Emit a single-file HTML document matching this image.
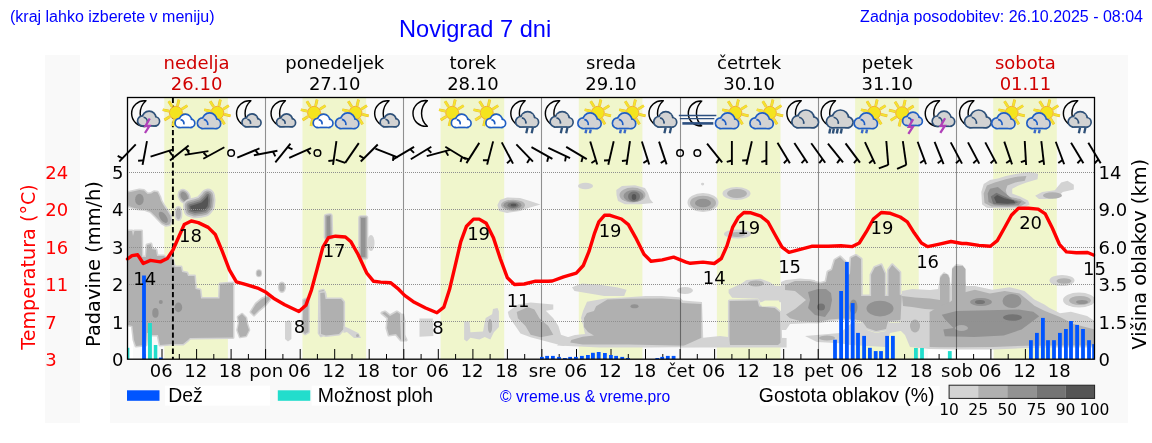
<!DOCTYPE html>
<html><head><meta charset="utf-8"><title>Novigrad 7 dni</title>
<style>
html,body{margin:0;padding:0;background:#fff;width:1152px;height:443px;overflow:hidden}
body{position:relative}
.t{position:absolute;font-family:"Liberation Sans",Arial,sans-serif;color:#0000ff;white-space:nowrap;line-height:1}
</style></head><body>
<svg width="1152" height="443" viewBox="0 0 1152 443" style="position:absolute;left:0;top:0"><defs><clipPath id="pc"><rect x="128" y="98" width="966" height="261"/></clipPath></defs><rect x="45" y="55" width="35" height="368" fill="#f9f9f9"/><rect x="110" y="55" width="1018" height="368" fill="#f9f9f9"/><rect x="164.3" y="97.5" width="63.6" height="261.7" fill="#f0f6cc"/><rect x="302.5" y="97.5" width="63.6" height="261.7" fill="#f0f6cc"/><rect x="440.6" y="97.5" width="63.6" height="261.7" fill="#f0f6cc"/><rect x="578.8" y="97.5" width="63.6" height="261.7" fill="#f0f6cc"/><rect x="716.9" y="97.5" width="63.6" height="261.7" fill="#f0f6cc"/><rect x="855.1" y="97.5" width="63.6" height="261.7" fill="#f0f6cc"/><rect x="993.2" y="97.5" width="63.6" height="261.7" fill="#f0f6cc"/><g clip-path="url(#pc)"><polygon points="128.0,326.0 133.0,326.0 133.0,359.0 128.0,359.0" fill="#ffffff"/><polygon points="928.0,349.5 993.5,349.5 993.5,359.0 928.0,359.0" fill="#ffffff"/><polygon points="1055.0,347.0 1094.0,347.0 1094.0,359.0 1055.0,359.0" fill="#ffffff"/><polygon points="128.1,192.4 133.8,191.2 139.4,190.0 143.9,190.6 147.5,194.0 151.3,193.4 154.1,191.7 157.5,192.3 159.7,196.8 160.9,200.8 163.1,204.7 167.1,210.4 170.5,216.0 171.2,220.5 169.5,224.6 166.1,225.3 162.1,223.2 158.7,219.8 155.4,216.3 150.8,211.7 145.2,209.5 139.6,208.9 136.2,208.4 131.6,207.2 128.3,205.5" fill="#d3d3d3" stroke="#d3d3d3" stroke-width="3.00" stroke-linejoin="round"/><polygon points="128.1,192.4 133.8,191.2 139.4,190.0 143.9,190.6 147.5,194.0 151.3,193.4 154.1,191.7 157.5,192.3 159.7,196.8 160.9,200.8 163.1,204.7 167.1,210.4 170.5,216.0 171.2,220.5 169.5,224.6 166.1,225.3 162.1,223.2 158.7,219.8 155.4,216.3 150.8,211.7 145.2,209.5 139.6,208.9 136.2,208.4 131.6,207.2 128.3,205.5" fill="#b0b0b0"/><ellipse cx="139.4" cy="199.5" rx="4.3" ry="5.8" fill="#929292"/><ellipse cx="163.3" cy="217.3" rx="3.2" ry="6.5" fill="#929292" transform="rotate(-35 163.3 217.3)"/><ellipse cx="184.2" cy="196.5" rx="3.2" ry="5" fill="#d3d3d3" stroke="#d3d3d3" stroke-width="6.00" stroke-linejoin="round" transform="rotate(-30 184.2 196.5)"/><ellipse cx="184.2" cy="196.5" rx="3.2" ry="5" fill="#b0b0b0" stroke="#b0b0b0" stroke-width="3.00" stroke-linejoin="round" transform="rotate(-30 184.2 196.5)"/><ellipse cx="184.2" cy="196.5" rx="3.2" ry="5" fill="#929292" transform="rotate(-30 184.2 196.5)"/><polygon points="190.2,206.0 194.7,204.8 201.5,202.6 206.0,198.1 207.7,195.8 208.3,200.3 207.7,206.0 204.9,209.4 200.4,210.5 194.7,211.1 190.8,209.9" fill="#d3d3d3" stroke="#d3d3d3" stroke-width="14.40" stroke-linejoin="round"/><polygon points="190.2,206.0 194.7,204.8 201.5,202.6 206.0,198.1 207.7,195.8 208.3,200.3 207.7,206.0 204.9,209.4 200.4,210.5 194.7,211.1 190.8,209.9" fill="#b0b0b0" stroke="#b0b0b0" stroke-width="10.80" stroke-linejoin="round"/><polygon points="190.2,206.0 194.7,204.8 201.5,202.6 206.0,198.1 207.7,195.8 208.3,200.3 207.7,206.0 204.9,209.4 200.4,210.5 194.7,211.1 190.8,209.9" fill="#929292" stroke="#929292" stroke-width="7.20" stroke-linejoin="round"/><polygon points="190.2,206.0 194.7,204.8 201.5,202.6 206.0,198.1 207.7,195.8 208.3,200.3 207.7,206.0 204.9,209.4 200.4,210.5 194.7,211.1 190.8,209.9" fill="#747474" stroke="#747474" stroke-width="3.60" stroke-linejoin="round"/><polygon points="190.2,206.0 194.7,204.8 201.5,202.6 206.0,198.1 207.7,195.8 208.3,200.3 207.7,206.0 204.9,209.4 200.4,210.5 194.7,211.1 190.8,209.9" fill="#555555"/><ellipse cx="178.4" cy="213.5" rx="2.5" ry="6" fill="#d3d3d3" stroke="#d3d3d3" stroke-width="3.00" stroke-linejoin="round"/><ellipse cx="178.4" cy="213.5" rx="2.5" ry="6" fill="#b0b0b0"/><polygon points="128.0,231.0 132.0,231.0 133.0,236.0 134.5,231.0 141.5,231.0 142.0,257.0 146.0,257.0 147.0,245.0 151.0,244.0 152.0,249.0 156.0,250.0 157.0,256.0 164.0,256.0 166.0,258.0 172.0,257.0 173.0,262.0 174.5,267.0 181.0,267.0 182.0,272.0 187.0,273.0 188.0,276.0 194.5,276.0 195.5,289.0 200.0,290.0 201.0,298.5 219.5,298.5 220.0,284.0 233.0,283.0 233.0,337.5 190.0,338.0 188.0,340.0 183.0,344.0 172.0,344.0 160.0,345.0 158.0,335.0 152.0,335.0 150.0,333.0 147.0,333.0 146.0,345.0 136.0,346.0 134.0,340.0 132.4,326.0 128.0,325.0" fill="#d3d3d3" stroke="#d3d3d3" stroke-width="3.00" stroke-linejoin="round"/><polygon points="128.0,231.0 132.0,231.0 133.0,236.0 134.5,231.0 141.5,231.0 142.0,257.0 146.0,257.0 147.0,245.0 151.0,244.0 152.0,249.0 156.0,250.0 157.0,256.0 164.0,256.0 166.0,258.0 172.0,257.0 173.0,262.0 174.5,267.0 181.0,267.0 182.0,272.0 187.0,273.0 188.0,276.0 194.5,276.0 195.5,289.0 200.0,290.0 201.0,298.5 219.5,298.5 220.0,284.0 233.0,283.0 233.0,337.5 190.0,338.0 188.0,340.0 183.0,344.0 172.0,344.0 160.0,345.0 158.0,335.0 152.0,335.0 150.0,333.0 147.0,333.0 146.0,345.0 136.0,346.0 134.0,340.0 132.4,326.0 128.0,325.0" fill="#b0b0b0"/><ellipse cx="155.4" cy="312.9" rx="3.2" ry="4.8" fill="#929292"/><ellipse cx="178.4" cy="307.4" rx="3.8" ry="4.8" fill="#929292"/><ellipse cx="160.8" cy="302" rx="2" ry="2" fill="#929292"/><ellipse cx="258.9" cy="273.2" rx="2.2" ry="3" fill="#d3d3d3" stroke="#d3d3d3" stroke-width="2.00" stroke-linejoin="round"/><ellipse cx="258.9" cy="273.2" rx="2.2" ry="3" fill="#b0b0b0"/><ellipse cx="281.9" cy="287.3" rx="2.6" ry="4.2" fill="#d3d3d3" stroke="#d3d3d3" stroke-width="3.00" stroke-linejoin="round"/><ellipse cx="281.9" cy="287.3" rx="2.6" ry="4.2" fill="#b0b0b0"/><polygon points="251.0,312.0 256.0,304.0 262.0,299.0 268.0,296.5 270.0,299.0 265.0,305.0 259.0,310.0 254.0,315.0" fill="#d3d3d3" stroke="#d3d3d3" stroke-width="3.00" stroke-linejoin="round"/><polygon points="251.0,312.0 256.0,304.0 262.0,299.0 268.0,296.5 270.0,299.0 265.0,305.0 259.0,310.0 254.0,315.0" fill="#b0b0b0"/><polygon points="238.0,317.0 242.0,314.0 246.0,318.0 247.0,324.0 249.0,330.0 246.0,336.0 240.0,337.0 237.5,330.0 239.0,323.0" fill="#d3d3d3" stroke="#d3d3d3" stroke-width="2.60" stroke-linejoin="round"/><polygon points="238.0,317.0 242.0,314.0 246.0,318.0 247.0,324.0 249.0,330.0 246.0,336.0 240.0,337.0 237.5,330.0 239.0,323.0" fill="#b0b0b0"/><polygon points="285.0,322.0 289.0,320.0 291.4,323.0 291.4,339.0 288.0,341.5 285.0,339.0" fill="#d3d3d3"/><polygon points="303.5,300.0 307.0,298.5 308.5,302.0 308.5,332.0 305.0,334.0 302.5,331.0" fill="#d3d3d3" stroke="#d3d3d3" stroke-width="2.60" stroke-linejoin="round"/><polygon points="303.5,300.0 307.0,298.5 308.5,302.0 308.5,332.0 305.0,334.0 302.5,331.0" fill="#b0b0b0"/><polygon points="319.5,291.0 323.5,290.0 325.0,294.0 325.0,334.0 321.0,336.0 319.0,333.0" fill="#d3d3d3" stroke="#d3d3d3" stroke-width="2.60" stroke-linejoin="round"/><polygon points="319.5,291.0 323.5,290.0 325.0,294.0 325.0,334.0 321.0,336.0 319.0,333.0" fill="#b0b0b0"/><polygon points="326.5,216.5 330.0,216.0 330.5,237.0 326.5,237.5" fill="#d3d3d3" stroke="#d3d3d3" stroke-width="5.60" stroke-linejoin="round"/><polygon points="326.5,216.5 330.0,216.0 330.5,237.0 326.5,237.5" fill="#b0b0b0" stroke="#b0b0b0" stroke-width="2.80" stroke-linejoin="round"/><polygon points="326.5,216.5 330.0,216.0 330.5,237.0 326.5,237.5" fill="#929292"/><ellipse cx="371" cy="243" rx="3.5" ry="8" fill="#d3d3d3"/><polygon points="361.0,218.0 365.5,218.0 365.5,257.0 361.0,257.0" fill="#d3d3d3" stroke="#d3d3d3" stroke-width="5.60" stroke-linejoin="round"/><polygon points="361.0,218.0 365.5,218.0 365.5,257.0 361.0,257.0" fill="#b0b0b0" stroke="#b0b0b0" stroke-width="2.80" stroke-linejoin="round"/><polygon points="361.0,218.0 365.5,218.0 365.5,257.0 361.0,257.0" fill="#929292"/><polygon points="320.3,293.0 324.5,292.5 325.5,299.0 341.0,299.0 343.5,302.0 343.5,329.0 339.0,334.0 326.0,335.5 321.0,334.0" fill="#d3d3d3" stroke="#d3d3d3" stroke-width="3.20" stroke-linejoin="round"/><polygon points="320.3,293.0 324.5,292.5 325.5,299.0 341.0,299.0 343.5,302.0 343.5,329.0 339.0,334.0 326.0,335.5 321.0,334.0" fill="#b0b0b0"/><polygon points="343.5,326.0 349.2,328.5 358.7,333.2 361.0,338.0 354.0,338.0 346.9,332.0 343.5,333.0" fill="#d3d3d3"/><ellipse cx="357.5" cy="335.6" rx="1.5" ry="1.5" fill="#b0b0b0"/><polygon points="382.0,313.0 385.0,312.0 390.0,316.0 397.0,312.0 400.0,314.0 401.0,330.0 404.0,336.0 406.0,340.0 401.0,340.0 396.0,334.0 389.0,335.0 387.0,328.0 388.0,318.0" fill="#d3d3d3" stroke="#d3d3d3" stroke-width="3.20" stroke-linejoin="round"/><polygon points="382.0,313.0 385.0,312.0 390.0,316.0 397.0,312.0 400.0,314.0 401.0,330.0 404.0,336.0 406.0,340.0 401.0,340.0 396.0,334.0 389.0,335.0 387.0,328.0 388.0,318.0" fill="#b0b0b0"/><polygon points="400.0,314.0 404.0,313.4 405.4,320.0 405.4,341.0 401.0,341.0" fill="#d3d3d3"/><polygon points="419.5,318.5 432.8,318.5 433.4,336.0 419.5,336.7" fill="#d3d3d3"/><polygon points="464.1,321.5 469.5,321.5 470.4,332.3 483.0,331.4 484.8,321.5 485.7,317.9 492.1,314.3 493.0,308.9 497.5,308.0 498.9,311.6 498.9,326.9 493.9,332.3 490.3,339.6 484.8,336.9 479.4,339.6 470.4,337.8 466.8,341.4 464.1,339.6" fill="#d3d3d3"/><ellipse cx="490" cy="326" rx="2.2" ry="7" fill="#b0b0b0"/><polygon points="507.8,312.0 518.0,304.4 530.6,302.6 553.3,304.4 553.3,309.4 545.8,310.7 553.3,318.3 558.4,325.9 561.0,334.7 568.5,337.3 575.0,340.0 563.5,346.1 530.6,337.3 520.5,333.5 515.4,325.9 509.1,317.0" fill="#d3d3d3"/><polygon points="516.7,312.0 528.0,306.9 534.4,309.4 539.4,318.3 548.3,325.9 553.3,334.7 540.7,337.3 530.6,334.7 525.5,325.9 517.9,318.3" fill="#b0b0b0"/><polygon points="497.4,205.0 500.0,200.0 507.0,197.5 520.0,198.0 530.0,201.0 540.5,204.5 530.0,207.5 520.0,211.0 507.0,213.0 499.0,211.0" fill="#d3d3d3"/><ellipse cx="513" cy="205.2" rx="12" ry="5.5" fill="#b0b0b0"/><ellipse cx="512.5" cy="205.2" rx="9" ry="4" fill="#929292"/><ellipse cx="513" cy="205.2" rx="5.5" ry="2.8" fill="#747474"/><ellipse cx="513.5" cy="205.2" rx="3" ry="1.4" fill="#555555"/><ellipse cx="585.5" cy="186" rx="7.5" ry="3.3" fill="#d3d3d3"/><polygon points="616.3,190.0 622.0,186.0 635.0,185.3 645.0,188.0 648.0,193.0 650.0,199.0 653.3,203.0 640.0,204.3 625.0,204.3 618.0,201.0 616.5,195.0" fill="#d3d3d3"/><ellipse cx="632.5" cy="195" rx="13" ry="7.6" fill="#b0b0b0"/><ellipse cx="633.5" cy="196" rx="10" ry="6" fill="#929292"/><ellipse cx="634" cy="196.5" rx="6" ry="5" fill="#747474"/><ellipse cx="634" cy="197" rx="2.3" ry="3" fill="#555555"/><ellipse cx="702.6" cy="184.1" rx="1.6" ry="1.3" fill="#d3d3d3"/><ellipse cx="703" cy="202.5" rx="15.5" ry="9.5" fill="#d3d3d3"/><ellipse cx="703" cy="203" rx="13" ry="7.3" fill="#b0b0b0"/><ellipse cx="703" cy="203" rx="8" ry="4.3" fill="#929292"/><ellipse cx="736.5" cy="193.5" rx="14" ry="6.5" fill="#d3d3d3"/><ellipse cx="737" cy="193.5" rx="10" ry="4.5" fill="#b0b0b0"/><ellipse cx="737.5" cy="234" rx="13.5" ry="4.5" fill="#d3d3d3"/><ellipse cx="737" cy="234.5" rx="8" ry="2.5" fill="#b0b0b0"/><polygon points="572.0,287.2 582.0,283.5 599.3,284.8 616.7,287.2 626.6,289.7 624.2,296.0 604.3,296.0 589.4,293.5 574.5,291.0" fill="#d3d3d3"/><ellipse cx="685" cy="290.5" rx="8" ry="3.5" fill="#d3d3d3"/><polygon points="557.0,345.6 565.0,338.0 575.0,335.0 585.0,334.0 583.0,325.0 581.0,318.0 583.0,311.0 587.0,301.8 593.9,300.6 605.1,298.4 627.7,297.2 645.8,296.1 661.6,296.1 679.6,297.2 683.0,300.6 702.0,302.0 703.5,347.0 650.0,347.5 600.0,347.5" fill="#d3d3d3"/><polygon points="596.1,306.3 607.4,299.5 627.7,298.8 661.6,298.4 679.6,299.5 681.9,302.9 701.3,304.0 701.3,346.0 627.7,344.5 582.6,344.5 570.2,342.4 571.3,340.1 582.6,336.7 593.9,335.6 588.0,332.0 584.0,327.0 584.0,318.0 587.0,313.0 594.0,311.0" fill="#b0b0b0"/><ellipse cx="634.5" cy="306.3" rx="4" ry="2" fill="#929292"/><polygon points="701.0,338.0 720.0,336.0 728.0,337.0 786.6,338.0 786.6,347.4 680.0,347.4" fill="#d3d3d3"/><polygon points="728.6,289.4 741.6,283.4 746.4,279.9 760.6,278.7 770.0,282.3 774.8,285.8 791.4,285.8 793.7,300.0 781.9,302.4 774.8,301.2 760.6,302.4 758.2,298.8 732.1,297.7 728.6,292.9" fill="#d3d3d3"/><ellipse cx="756" cy="283.4" rx="8" ry="3" fill="#b0b0b0"/><polygon points="729.5,301.0 757.5,300.5 759.0,306.5 774.8,308.0 780.0,312.5 780.5,342.7 778.0,345.0 730.0,345.0 729.5,340.0" fill="#d3d3d3" stroke="#d3d3d3" stroke-width="3.20" stroke-linejoin="round"/><polygon points="729.5,301.0 757.5,300.5 759.0,306.5 774.8,308.0 780.0,312.5 780.5,342.7 778.0,345.0 730.0,345.0 729.5,340.0" fill="#b0b0b0"/><polygon points="781.0,282.0 786.0,280.0 800.0,278.5 815.0,280.0 815.0,323.0 790.0,324.0 786.0,330.0 781.0,330.0" fill="#d3d3d3"/><polygon points="805.0,336.0 840.0,333.0 853.0,322.0 862.0,323.0 867.0,330.0 876.0,333.0 886.0,331.0 888.0,323.0 910.0,322.0 910.0,331.0 900.0,331.0 890.0,333.0 886.0,347.0 850.0,345.0 840.0,343.2 817.0,342.0" fill="#d3d3d3"/><ellipse cx="827" cy="338" rx="8" ry="2.5" fill="#b0b0b0"/><polygon points="785.0,285.0 795.0,281.0 810.0,281.0 820.0,283.5 826.0,282.0 828.0,272.0 832.0,270.0 835.0,260.0 840.0,257.0 845.0,262.0 846.0,276.0 850.0,274.0 851.0,258.0 856.0,255.5 861.0,259.0 861.2,296.0 871.1,296.0 871.1,274.8 874.8,267.4 881.1,264.9 884.8,273.6 884.8,296.0 888.5,296.0 888.5,269.9 892.2,264.9 899.7,272.4 899.7,294.7 905.0,297.0 908.0,302.0 910.0,308.0 909.0,316.0 900.0,320.0 888.0,321.0 886.0,329.0 876.0,331.0 867.0,328.0 862.0,321.0 853.0,319.0 842.0,318.5 830.0,319.6 817.0,322.0 800.0,321.0 790.0,318.3 786.0,314.6 795.0,309.0 806.0,300.0 795.0,291.0 785.0,290.0" fill="#d3d3d3" stroke="#d3d3d3" stroke-width="3.20" stroke-linejoin="round"/><polygon points="785.0,285.0 795.0,281.0 810.0,281.0 820.0,283.5 826.0,282.0 828.0,272.0 832.0,270.0 835.0,260.0 840.0,257.0 845.0,262.0 846.0,276.0 850.0,274.0 851.0,258.0 856.0,255.5 861.0,259.0 861.2,296.0 871.1,296.0 871.1,274.8 874.8,267.4 881.1,264.9 884.8,273.6 884.8,296.0 888.5,296.0 888.5,269.9 892.2,264.9 899.7,272.4 899.7,294.7 905.0,297.0 908.0,302.0 910.0,308.0 909.0,316.0 900.0,320.0 888.0,321.0 886.0,329.0 876.0,331.0 867.0,328.0 862.0,321.0 853.0,319.0 842.0,318.5 830.0,319.6 817.0,322.0 800.0,321.0 790.0,318.3 786.0,314.6 795.0,309.0 806.0,300.0 795.0,291.0 785.0,290.0" fill="#b0b0b0"/><polygon points="808.0,292.0 818.0,289.0 826.0,289.0 831.0,293.0 832.0,300.0 830.0,310.0 825.0,317.0 815.0,315.0 808.0,308.0 810.0,300.0" fill="#929292"/><ellipse cx="821" cy="307.1" rx="4" ry="3.5" fill="#747474"/><ellipse cx="880" cy="308.6" rx="13.5" ry="7.8" fill="#929292"/><ellipse cx="853.5" cy="307" rx="4" ry="7.5" fill="#929292"/><polygon points="902.0,291.0 912.0,289.0 930.0,290.0 938.0,289.0 940.0,276.0 944.0,272.0 949.0,275.0 951.0,287.0 952.0,268.0 956.0,264.0 963.0,265.0 966.0,286.0 974.9,286.0 992.3,289.7 1009.6,287.2 1024.5,291.0 1034.4,299.6 1044.4,304.6 1049.2,307.8 1060.0,313.2 1070.9,311.8 1087.1,315.9 1095.0,321.3 1095.0,347.5 1060.0,347.5 1027.0,348.0 994.7,349.4 960.0,349.4 930.0,349.0 910.0,347.0 905.0,335.0 900.0,330.0" fill="#d3d3d3"/><polygon points="902.0,296.0 915.0,297.5 930.0,298.5 940.0,300.0 945.0,304.0 940.0,310.0 925.0,309.0 912.0,307.0 903.0,306.0" fill="#b0b0b0"/><ellipse cx="915" cy="326" rx="5" ry="6.5" fill="#b0b0b0"/><polygon points="940.0,306.0 940.0,278.0 943.0,274.0 947.0,274.0 949.5,278.0 949.5,306.0" fill="#b0b0b0"/><polygon points="952.0,300.0 952.0,269.0 955.0,266.0 963.0,266.0 965.6,269.0 965.6,300.0" fill="#b0b0b0"/><polygon points="929.6,312.0 940.0,306.0 950.0,302.0 960.0,293.4 974.9,289.7 989.8,293.4 1004.7,291.0 1019.6,293.4 1027.0,299.6 1034.4,305.8 1044.4,310.8 1060.0,317.0 1073.6,324.0 1095.0,329.4 1095.0,345.5 1062.7,345.5 1026.0,345.7 993.5,347.0 960.0,347.2 940.0,347.2 929.6,347.0" fill="#b0b0b0"/><polygon points="941.8,314.8 956.6,311.0 989.0,310.3 1018.5,309.6 1033.3,311.8 1039.2,316.2 1033.3,320.7 1021.5,329.5 1003.8,335.4 974.3,336.9 944.8,336.2 943.3,329.5 953.6,328.0 944.8,319.2" fill="#929292"/><ellipse cx="961.5" cy="328" rx="6.5" ry="3" fill="#b0b0b0"/><ellipse cx="1012" cy="301" rx="9.5" ry="7" fill="#929292"/><ellipse cx="981" cy="302" rx="11" ry="4" fill="#929292"/><ellipse cx="980" cy="302" rx="5" ry="2" fill="#747474"/><ellipse cx="1012.5" cy="317.5" rx="9.5" ry="3.3" fill="#747474"/><ellipse cx="1062" cy="280.5" rx="12.5" ry="5.5" fill="#d3d3d3"/><ellipse cx="1064" cy="281" rx="7.5" ry="2.8" fill="#b0b0b0"/><ellipse cx="1079" cy="300" rx="16" ry="7.5" fill="#d3d3d3"/><ellipse cx="1080" cy="300.5" rx="11" ry="4.5" fill="#b0b0b0"/><ellipse cx="1082" cy="302" rx="6" ry="2" fill="#929292"/><polygon points="981.3,191.9 983.7,184.0 990.0,180.0 997.9,178.4 1005.8,176.1 1016.9,173.7 1029.6,172.1 1038.2,173.7 1037.5,179.2 1026.4,182.4 1018.5,185.5 1012.2,188.7 1012.2,193.5 1020.1,196.6 1028.0,200.6 1029.6,204.5 1023.2,207.7 1012.2,208.5 999.5,208.5 986.9,207.7 982.1,204.5" fill="#d3d3d3"/><polygon points="983.7,193.5 986.9,185.5 994.8,182.4 1005.8,179.2 1015.3,176.9 1026.4,176.1 1024.8,180.8 1015.3,182.4 1007.4,185.5 1005.8,190.3 1007.4,196.6 1020.1,199.0 1026.4,202.9 1020.1,206.4 1007.4,206.9 991.6,206.4 984.5,202.9" fill="#b0b0b0"/><polygon points="987.7,193.5 990.0,188.7 997.9,187.1 1005.8,193.5 1012.2,199.0 1021.7,201.4 1018.5,205.3 1007.4,205.8 994.8,205.3 988.5,202.1" fill="#929292"/><polygon points="990.8,196.6 996.4,192.7 1002.7,195.8 1012.2,199.8 1018.5,202.1 1013.7,204.5 1001.1,204.8 993.2,203.7" fill="#747474"/><polygon points="994.0,197.4 997.1,195.0 1004.3,198.2 1013.7,200.6 1015.3,202.9 1007.4,203.7 996.4,202.9" fill="#555555"/><polygon points="1035.1,195.8 1042.2,191.9 1054.8,190.3 1061.2,182.4 1067.5,180.8 1073.8,184.8 1073.8,189.5 1062.8,191.9 1058.0,196.6 1050.1,199.0 1039.0,199.0" fill="#d3d3d3"/><ellipse cx="1052.5" cy="195.5" rx="9.5" ry="3.2" fill="#b0b0b0"/><polygon points="760.0,303.0 765.0,300.5 779.0,300.5 780.0,306.0 762.0,306.5" fill="#f0f6cc"/></g><line x1="265.5" y1="97.5" x2="265.5" y2="359.2" stroke="#000" stroke-opacity="0.42" stroke-width="1.1"/><line x1="403.5" y1="97.5" x2="403.5" y2="359.2" stroke="#000" stroke-opacity="0.42" stroke-width="1.1"/><line x1="541.5" y1="97.5" x2="541.5" y2="359.2" stroke="#000" stroke-opacity="0.42" stroke-width="1.1"/><line x1="680.5" y1="97.5" x2="680.5" y2="359.2" stroke="#000" stroke-opacity="0.42" stroke-width="1.1"/><line x1="818.5" y1="97.5" x2="818.5" y2="359.2" stroke="#000" stroke-opacity="0.42" stroke-width="1.1"/><line x1="956.5" y1="97.5" x2="956.5" y2="359.2" stroke="#000" stroke-opacity="0.42" stroke-width="1.1"/><line x1="127" y1="321.5" x2="1094" y2="321.5" stroke="#8f8f8f" stroke-width="1" stroke-dasharray="1,1"/><line x1="127" y1="284.5" x2="1094" y2="284.5" stroke="#8f8f8f" stroke-width="1" stroke-dasharray="1,1"/><line x1="127" y1="247.5" x2="1094" y2="247.5" stroke="#8f8f8f" stroke-width="1" stroke-dasharray="1,1"/><line x1="127" y1="209.5" x2="1094" y2="209.5" stroke="#8f8f8f" stroke-width="1" stroke-dasharray="1,1"/><line x1="127" y1="172.5" x2="1094" y2="172.5" stroke="#8f8f8f" stroke-width="1" stroke-dasharray="1,1"/><line x1="144.8" y1="359" x2="144.8" y2="354" stroke="#000" stroke-width="1"/><line x1="162.0" y1="359" x2="162.0" y2="349" stroke="#000" stroke-width="1"/><line x1="179.3" y1="359" x2="179.3" y2="354" stroke="#000" stroke-width="1"/><line x1="196.6" y1="359" x2="196.6" y2="349" stroke="#000" stroke-width="1"/><line x1="213.8" y1="359" x2="213.8" y2="354" stroke="#000" stroke-width="1"/><line x1="231.1" y1="359" x2="231.1" y2="349" stroke="#000" stroke-width="1"/><line x1="248.4" y1="359" x2="248.4" y2="354" stroke="#000" stroke-width="1"/><line x1="265.6" y1="359" x2="265.6" y2="349" stroke="#000" stroke-width="1"/><line x1="282.9" y1="359" x2="282.9" y2="354" stroke="#000" stroke-width="1"/><line x1="300.2" y1="359" x2="300.2" y2="349" stroke="#000" stroke-width="1"/><line x1="317.4" y1="359" x2="317.4" y2="354" stroke="#000" stroke-width="1"/><line x1="334.7" y1="359" x2="334.7" y2="349" stroke="#000" stroke-width="1"/><line x1="352.0" y1="359" x2="352.0" y2="354" stroke="#000" stroke-width="1"/><line x1="369.2" y1="359" x2="369.2" y2="349" stroke="#000" stroke-width="1"/><line x1="386.5" y1="359" x2="386.5" y2="354" stroke="#000" stroke-width="1"/><line x1="403.8" y1="359" x2="403.8" y2="349" stroke="#000" stroke-width="1"/><line x1="421.1" y1="359" x2="421.1" y2="354" stroke="#000" stroke-width="1"/><line x1="438.3" y1="359" x2="438.3" y2="349" stroke="#000" stroke-width="1"/><line x1="455.6" y1="359" x2="455.6" y2="354" stroke="#000" stroke-width="1"/><line x1="472.9" y1="359" x2="472.9" y2="349" stroke="#000" stroke-width="1"/><line x1="490.1" y1="359" x2="490.1" y2="354" stroke="#000" stroke-width="1"/><line x1="507.4" y1="359" x2="507.4" y2="349" stroke="#000" stroke-width="1"/><line x1="524.7" y1="359" x2="524.7" y2="354" stroke="#000" stroke-width="1"/><line x1="541.9" y1="359" x2="541.9" y2="349" stroke="#000" stroke-width="1"/><line x1="559.2" y1="359" x2="559.2" y2="354" stroke="#000" stroke-width="1"/><line x1="576.5" y1="359" x2="576.5" y2="349" stroke="#000" stroke-width="1"/><line x1="593.7" y1="359" x2="593.7" y2="354" stroke="#000" stroke-width="1"/><line x1="611.0" y1="359" x2="611.0" y2="349" stroke="#000" stroke-width="1"/><line x1="628.3" y1="359" x2="628.3" y2="354" stroke="#000" stroke-width="1"/><line x1="645.5" y1="359" x2="645.5" y2="349" stroke="#000" stroke-width="1"/><line x1="662.8" y1="359" x2="662.8" y2="354" stroke="#000" stroke-width="1"/><line x1="680.1" y1="359" x2="680.1" y2="349" stroke="#000" stroke-width="1"/><line x1="697.3" y1="359" x2="697.3" y2="354" stroke="#000" stroke-width="1"/><line x1="714.6" y1="359" x2="714.6" y2="349" stroke="#000" stroke-width="1"/><line x1="731.9" y1="359" x2="731.9" y2="354" stroke="#000" stroke-width="1"/><line x1="749.1" y1="359" x2="749.1" y2="349" stroke="#000" stroke-width="1"/><line x1="766.4" y1="359" x2="766.4" y2="354" stroke="#000" stroke-width="1"/><line x1="783.7" y1="359" x2="783.7" y2="349" stroke="#000" stroke-width="1"/><line x1="800.9" y1="359" x2="800.9" y2="354" stroke="#000" stroke-width="1"/><line x1="818.2" y1="359" x2="818.2" y2="349" stroke="#000" stroke-width="1"/><line x1="835.5" y1="359" x2="835.5" y2="354" stroke="#000" stroke-width="1"/><line x1="852.7" y1="359" x2="852.7" y2="349" stroke="#000" stroke-width="1"/><line x1="870.0" y1="359" x2="870.0" y2="354" stroke="#000" stroke-width="1"/><line x1="887.3" y1="359" x2="887.3" y2="349" stroke="#000" stroke-width="1"/><line x1="904.6" y1="359" x2="904.6" y2="354" stroke="#000" stroke-width="1"/><line x1="921.8" y1="359" x2="921.8" y2="349" stroke="#000" stroke-width="1"/><line x1="939.1" y1="359" x2="939.1" y2="354" stroke="#000" stroke-width="1"/><line x1="956.4" y1="359" x2="956.4" y2="349" stroke="#000" stroke-width="1"/><line x1="973.6" y1="359" x2="973.6" y2="354" stroke="#000" stroke-width="1"/><line x1="990.9" y1="359" x2="990.9" y2="349" stroke="#000" stroke-width="1"/><line x1="1008.2" y1="359" x2="1008.2" y2="354" stroke="#000" stroke-width="1"/><line x1="1025.4" y1="359" x2="1025.4" y2="349" stroke="#000" stroke-width="1"/><line x1="1042.7" y1="359" x2="1042.7" y2="354" stroke="#000" stroke-width="1"/><line x1="1060.0" y1="359" x2="1060.0" y2="349" stroke="#000" stroke-width="1"/><line x1="1077.2" y1="359" x2="1077.2" y2="354" stroke="#000" stroke-width="1"/><rect x="127.6" y="347.8" width="1.8" height="11.4" fill="#22ddcc"/><rect x="142.1" y="275.5" width="3.8" height="83.7" fill="#0055ff"/><rect x="148.0" y="323.0" width="3.9" height="36.2" fill="#22ddcc"/><rect x="153.8" y="345.0" width="3.5" height="14.2" fill="#22ddcc"/><rect x="159.0" y="357.6" width="3.5" height="1.6" fill="#0055ff"/><rect x="540.0" y="356.9" width="3.8" height="2.3" fill="#0055ff"/><rect x="545.2" y="355.9" width="3.8" height="3.3" fill="#0055ff"/><rect x="551.0" y="355.9" width="3.8" height="3.3" fill="#0055ff"/><rect x="557.1" y="356.9" width="3.8" height="2.3" fill="#0055ff"/><rect x="563.0" y="358.0" width="3.8" height="1.2" fill="#0055ff"/><rect x="568.2" y="356.9" width="3.8" height="2.3" fill="#0055ff"/><rect x="574.0" y="356.9" width="3.8" height="2.3" fill="#0055ff"/><rect x="580.0" y="355.9" width="3.8" height="3.3" fill="#0055ff"/><rect x="586.0" y="355.0" width="3.8" height="4.2" fill="#0055ff"/><rect x="591.0" y="352.8" width="3.8" height="6.4" fill="#0055ff"/><rect x="596.8" y="352.0" width="3.8" height="7.2" fill="#0055ff"/><rect x="603.0" y="353.0" width="3.8" height="6.2" fill="#0055ff"/><rect x="609.0" y="355.0" width="3.8" height="4.2" fill="#0055ff"/><rect x="614.2" y="355.9" width="3.8" height="3.3" fill="#0055ff"/><rect x="620.3" y="356.9" width="3.8" height="2.3" fill="#0055ff"/><rect x="626.1" y="358.0" width="3.8" height="1.2" fill="#0055ff"/><rect x="655.4" y="358.0" width="3.8" height="1.2" fill="#0055ff"/><rect x="660.3" y="356.9" width="3.8" height="2.3" fill="#0055ff"/><rect x="665.9" y="355.9" width="3.8" height="3.3" fill="#0055ff"/><rect x="671.7" y="355.9" width="3.8" height="3.3" fill="#0055ff"/><rect x="833.1" y="339.7" width="3.8" height="19.5" fill="#0055ff"/><rect x="839.2" y="291.0" width="3.8" height="68.2" fill="#0055ff"/><rect x="845.0" y="261.9" width="3.8" height="97.3" fill="#0055ff"/><rect x="850.8" y="303.1" width="3.8" height="56.1" fill="#0055ff"/><rect x="856.1" y="332.9" width="3.8" height="26.3" fill="#0055ff"/><rect x="862.2" y="335.9" width="3.8" height="23.3" fill="#0055ff"/><rect x="868.0" y="347.8" width="3.8" height="11.4" fill="#0055ff"/><rect x="873.8" y="351.1" width="3.8" height="8.1" fill="#0055ff"/><rect x="879.1" y="351.1" width="3.8" height="8.1" fill="#0055ff"/><rect x="885.2" y="335.9" width="3.8" height="23.3" fill="#0055ff"/><rect x="891.0" y="335.9" width="3.8" height="23.3" fill="#0055ff"/><rect x="914.0" y="348.0" width="3.8" height="11.2" fill="#22ddcc"/><rect x="920.1" y="348.0" width="3.8" height="11.2" fill="#22ddcc"/><rect x="947.9" y="351.1" width="3.8" height="8.1" fill="#22ddcc"/><rect x="1029.0" y="340.2" width="3.8" height="19.0" fill="#0055ff"/><rect x="1035.0" y="332.9" width="3.8" height="26.3" fill="#0055ff"/><rect x="1041.0" y="317.9" width="3.8" height="41.3" fill="#0055ff"/><rect x="1046.1" y="340.2" width="3.8" height="19.0" fill="#0055ff"/><rect x="1052.1" y="340.2" width="3.8" height="19.0" fill="#0055ff"/><rect x="1058.0" y="332.9" width="3.8" height="26.3" fill="#0055ff"/><rect x="1064.0" y="329.0" width="3.8" height="30.2" fill="#0055ff"/><rect x="1069.1" y="321.0" width="3.8" height="38.2" fill="#0055ff"/><rect x="1075.2" y="324.9" width="3.8" height="34.3" fill="#0055ff"/><rect x="1081.1" y="329.0" width="3.8" height="30.2" fill="#0055ff"/><rect x="1087.1" y="340.2" width="3.8" height="19.0" fill="#0055ff"/><rect x="1092.2" y="344.1" width="2.0" height="15.1" fill="#0055ff"/><line x1="172.9" y1="97.5" x2="172.9" y2="359" stroke="#000" stroke-width="1.9" stroke-dasharray="5.4,2.7"/><polyline points="127.5,259 132,255.6 137.7,254.8 143.3,263.5 150.4,260.4 160.3,261.9 167.3,258.5 173,250 178.6,237.3 184.2,224.6 191.3,221 198.3,222.6 208.2,227.4 215.3,234.5 222.3,251.4 229.4,269.8 236.4,281.9 246.3,284.7 257.6,288.1 266,292.3 273.5,298.2 284.7,304.7 298.9,311.5 305.9,305.3 311.5,289.8 317.2,268.6 322.8,247.4 328.5,237.6 335.5,236.2 345.4,237 351,241.8 358.1,254.5 366.6,272.8 373.6,281.3 380.7,282.1 390.5,282.7 397.6,288.3 404.6,295.4 414.3,302.3 425.6,308 436.9,312.8 443.9,307.1 449.5,289.6 455.2,265.6 460.8,241.7 466.5,226.2 473.5,219.1 479.2,219.1 486.2,223.3 493.3,237.4 500.3,258.6 507.4,277.8 514.4,284.5 524.3,284 535.6,281.2 548,281.2 552.3,281 563.6,276.8 576.3,273.1 583.3,265.5 589,251.4 594.6,233.1 598.8,221.8 604.5,215.3 610.1,215.3 621.4,219 628.4,224.6 635.5,237.3 644,254.2 651,261.3 662.3,259.9 673.6,257.1 686,262.1 690.3,263.3 703,262.1 714.3,263.5 721.3,258.5 727,245.8 732.6,227.4 738.2,217.6 743.9,212.5 750.9,212.8 760.8,216.2 767.9,221.8 774.9,234.5 782,247.2 789,252.3 800.3,249.4 811.6,246.3 824,246.3 828.3,246.3 841,245.8 852.3,246.6 859.3,243 866.4,231.7 873.4,219 881.3,212.5 890.3,213.3 900.2,217 907.3,221.8 914.3,233.1 921.4,243 927.6,246.6 938.3,244.4 951,241.5 962,243.5 966.3,243.5 979,245.4 990.3,246.3 997.3,240.6 1004.4,228 1011.4,215.3 1018.5,208.2 1028.3,208.2 1038.2,209.1 1045.3,213.9 1052.3,228 1059.4,244.3 1066.4,251.9 1076.3,252.8 1087.6,252.5 1093.5,255" fill="none" stroke="#ff0000" stroke-width="3.4" stroke-linejoin="round" stroke-linecap="round"/><rect x="127.5" y="97.5" width="967" height="261.7" fill="none" stroke="#000" stroke-width="1.3"/><text x="144.7" y="285.20000000000005" font-family="DejaVu Sans, sans-serif" font-size="18" text-anchor="middle" fill="#000">14</text><text x="190.4" y="241.5" font-family="DejaVu Sans, sans-serif" font-size="18" text-anchor="middle" fill="#000">18</text><text x="299.4" y="333.20000000000005" font-family="DejaVu Sans, sans-serif" font-size="18" text-anchor="middle" fill="#000">8</text><text x="334.1" y="257.3" font-family="DejaVu Sans, sans-serif" font-size="18" text-anchor="middle" fill="#000">17</text><text x="437.9" y="334.3" font-family="DejaVu Sans, sans-serif" font-size="18" text-anchor="middle" fill="#000">8</text><text x="478.6" y="239.7" font-family="DejaVu Sans, sans-serif" font-size="18" text-anchor="middle" fill="#000">19</text><text x="518.1" y="306.5" font-family="DejaVu Sans, sans-serif" font-size="18" text-anchor="middle" fill="#000">11</text><text x="610.1" y="236.7" font-family="DejaVu Sans, sans-serif" font-size="18" text-anchor="middle" fill="#000">19</text><text x="714.3" y="284.40000000000003" font-family="DejaVu Sans, sans-serif" font-size="18" text-anchor="middle" fill="#000">14</text><text x="748.7" y="233.6" font-family="DejaVu Sans, sans-serif" font-size="18" text-anchor="middle" fill="#000">19</text><text x="789.6" y="273.40000000000003" font-family="DejaVu Sans, sans-serif" font-size="18" text-anchor="middle" fill="#000">15</text><text x="881.9" y="233.6" font-family="DejaVu Sans, sans-serif" font-size="18" text-anchor="middle" fill="#000">19</text><text x="927.6" y="267.5" font-family="DejaVu Sans, sans-serif" font-size="18" text-anchor="middle" fill="#000">16</text><text x="1030.6" y="229.29999999999998" font-family="DejaVu Sans, sans-serif" font-size="18" text-anchor="middle" fill="#000">20</text><text x="1094.5" y="275.3" font-family="DejaVu Sans, sans-serif" font-size="18" text-anchor="middle" fill="#000">15</text><g stroke="#000" stroke-width="1.9" stroke-linecap="butt"><line x1="119.25" y1="161.72" x2="135.75" y2="144.28"/><line x1="122.35" y1="158.45" x2="117.68" y2="155.93"/><line x1="142.56" y1="164.80" x2="146.98" y2="141.20"/><line x1="143.39" y1="160.37" x2="138.10" y2="160.78"/><line x1="173.49" y1="149.43" x2="150.58" y2="156.57"/><line x1="169.20" y1="150.77" x2="172.03" y2="155.25"/><line x1="188.66" y1="145.48" x2="169.95" y2="160.52"/><line x1="185.15" y1="148.30" x2="189.43" y2="151.43"/><line x1="184.71" y1="154.82" x2="208.43" y2="151.18"/><line x1="189.16" y1="154.13" x2="187.03" y2="149.28"/><line x1="203.31" y1="158.76" x2="224.37" y2="147.24"/><line x1="207.26" y1="156.60" x2="203.60" y2="152.77"/><circle cx="231.11" cy="153.0" r="3.3" fill="none" stroke="#000" stroke-width="1.5"/><line x1="259.47" y1="148.43" x2="237.28" y2="157.57"/><line x1="255.31" y1="150.14" x2="258.53" y2="154.35"/><line x1="277.42" y1="150.71" x2="253.86" y2="155.29"/><line x1="273.01" y1="151.57" x2="275.33" y2="156.33"/><line x1="290.46" y1="143.67" x2="275.36" y2="162.33"/><line x1="287.63" y1="147.17" x2="292.47" y2="149.33"/><line x1="311.13" y1="148.10" x2="289.22" y2="157.90"/><line x1="307.02" y1="149.94" x2="310.37" y2="154.05"/><circle cx="317.45" cy="153.0" r="3.3" fill="none" stroke="#000" stroke-width="1.5"/><line x1="333.00" y1="164.88" x2="336.43" y2="141.12"/><line x1="333.64" y1="160.42" x2="328.38" y2="161.05"/><line x1="345.19" y1="162.89" x2="358.78" y2="143.11"/><line x1="345.19" y1="162.89" x2="335.76" y2="159.55"/><line x1="360.76" y1="161.49" x2="377.74" y2="144.51"/><line x1="363.95" y1="158.30" x2="359.36" y2="155.65"/><line x1="397.72" y1="157.30" x2="375.31" y2="148.70"/><line x1="393.52" y1="155.69" x2="392.97" y2="160.96"/><line x1="414.07" y1="146.82" x2="393.50" y2="159.18"/><line x1="410.21" y1="149.14" x2="414.03" y2="152.82"/><line x1="431.30" y1="146.75" x2="410.81" y2="159.25"/><line x1="427.46" y1="149.09" x2="431.29" y2="152.75"/><line x1="449.90" y1="149.85" x2="426.74" y2="156.15"/><line x1="445.56" y1="151.03" x2="448.23" y2="155.61"/><line x1="465.84" y1="159.23" x2="445.34" y2="146.77"/><line x1="462.00" y1="156.90" x2="460.51" y2="161.98"/><line x1="466.43" y1="163.13" x2="479.29" y2="142.87"/><line x1="468.84" y1="159.33" x2="463.78" y2="157.75"/><line x1="487.12" y1="164.62" x2="493.13" y2="141.38"/><line x1="488.25" y1="160.26" x2="482.95" y2="160.31"/><line x1="513.03" y1="163.60" x2="501.76" y2="142.40"/><line x1="510.91" y1="159.62" x2="507.04" y2="163.24"/><line x1="532.97" y1="161.66" x2="516.35" y2="144.34"/><line x1="529.85" y1="158.41" x2="527.11" y2="162.95"/><line x1="552.38" y1="158.89" x2="531.47" y2="147.11"/><line x1="548.46" y1="156.68" x2="547.14" y2="161.82"/><line x1="570.07" y1="158.07" x2="548.32" y2="147.93"/><line x1="565.99" y1="156.17" x2="565.07" y2="161.39"/><line x1="586.75" y1="159.18" x2="566.18" y2="146.82"/><line x1="582.89" y1="156.86" x2="581.43" y2="161.96"/><line x1="597.22" y1="164.48" x2="590.24" y2="141.52"/><line x1="595.91" y1="160.18" x2="591.41" y2="162.98"/><line x1="608.28" y1="164.69" x2="613.72" y2="141.31"/><line x1="609.30" y1="160.30" x2="604.00" y2="160.48"/><line x1="626.56" y1="164.88" x2="629.98" y2="141.12"/><line x1="627.20" y1="160.42" x2="621.94" y2="161.05"/><line x1="649.20" y1="164.43" x2="641.87" y2="141.57"/><line x1="647.83" y1="160.14" x2="643.37" y2="163.01"/><line x1="666.59" y1="164.39" x2="659.02" y2="141.61"/><line x1="665.17" y1="160.12" x2="660.75" y2="163.03"/><circle cx="680.07" cy="153.0" r="3.3" fill="none" stroke="#000" stroke-width="1.5"/><circle cx="697.34" cy="153.0" r="3.3" fill="none" stroke="#000" stroke-width="1.5"/><line x1="722.16" y1="162.33" x2="707.06" y2="143.67"/><line x1="719.33" y1="158.83" x2="716.21" y2="163.12"/><line x1="731.88" y1="165.00" x2="731.88" y2="141.00"/><line x1="731.88" y1="160.50" x2="726.76" y2="161.87"/><line x1="746.42" y1="164.69" x2="751.86" y2="141.31"/><line x1="747.44" y1="160.30" x2="742.15" y2="160.48"/><line x1="766.41" y1="165.00" x2="766.41" y2="141.00"/><line x1="766.41" y1="160.50" x2="761.29" y2="161.87"/><line x1="789.86" y1="163.29" x2="777.50" y2="142.71"/><line x1="787.54" y1="159.43" x2="783.86" y2="163.24"/><line x1="807.53" y1="163.03" x2="794.36" y2="142.97"/><line x1="805.06" y1="159.27" x2="801.54" y2="163.23"/><line x1="825.20" y1="162.76" x2="811.23" y2="143.24"/><line x1="822.58" y1="159.10" x2="819.22" y2="163.19"/><line x1="843.03" y1="162.33" x2="827.93" y2="143.67"/><line x1="840.20" y1="158.83" x2="837.09" y2="163.12"/><line x1="859.97" y1="162.58" x2="845.53" y2="143.42"/><line x1="857.26" y1="158.99" x2="854.00" y2="163.17"/><line x1="875.09" y1="163.88" x2="864.95" y2="142.12"/><line x1="873.19" y1="159.80" x2="869.13" y2="163.20"/><line x1="888.27" y1="164.96" x2="886.30" y2="141.04"/><line x1="888.27" y1="164.96" x2="878.85" y2="168.33"/><line x1="906.27" y1="164.88" x2="902.84" y2="141.12"/><line x1="906.27" y1="164.88" x2="897.07" y2="168.82"/><line x1="926.02" y1="164.24" x2="917.62" y2="141.76"/><line x1="924.45" y1="160.03" x2="920.13" y2="163.10"/><line x1="943.58" y1="164.13" x2="934.59" y2="141.87"/><line x1="941.90" y1="159.95" x2="937.67" y2="163.14"/><line x1="961.99" y1="163.60" x2="950.72" y2="142.40"/><line x1="959.88" y1="159.62" x2="956.00" y2="163.24"/><line x1="979.26" y1="163.60" x2="967.99" y2="142.40"/><line x1="977.15" y1="159.62" x2="973.27" y2="163.24"/><line x1="996.53" y1="163.60" x2="985.26" y2="142.40"/><line x1="994.41" y1="159.62" x2="990.54" y2="163.24"/><line x1="1012.05" y1="164.35" x2="1004.27" y2="141.65"/><line x1="1010.59" y1="160.10" x2="1006.19" y2="163.05"/><line x1="1026.12" y1="164.98" x2="1024.74" y2="141.02"/><line x1="1025.86" y1="160.49" x2="1020.83" y2="162.15"/><line x1="1044.08" y1="164.92" x2="1041.32" y2="141.08"/><line x1="1043.56" y1="160.45" x2="1038.63" y2="162.40"/><line x1="1064.17" y1="164.24" x2="1055.76" y2="141.76"/><line x1="1062.59" y1="160.03" x2="1058.28" y2="163.10"/><line x1="1083.41" y1="163.29" x2="1071.05" y2="142.71"/><line x1="1081.09" y1="159.43" x2="1077.41" y2="163.24"/><line x1="1100.68" y1="163.29" x2="1088.32" y2="142.71"/><line x1="1098.36" y1="159.43" x2="1094.68" y2="163.24"/></g><g transform="translate(144.77,115)"><path d="M1.20,-14.20 A12.84,12.84 0 1 0 1.20,11.30 A16.91,16.91 0 0 1 1.20,-14.20 Z" fill="none" stroke="#000" stroke-width="1.45" stroke-linejoin="round"/><g transform="translate(-7.30,-3.90) scale(0.932)"><g fill="#2e5078" stroke="#2e5078" stroke-width="3.65"><circle cx="5.5" cy="10.5" r="4.5"/><circle cx="12.5" cy="7.5" r="6.5"/><circle cx="18.8" cy="11" r="4"/><rect x="5.5" y="9" width="13.3" height="6"/></g><g fill="#d3d3d3"><circle cx="5.5" cy="10.5" r="4.5"/><circle cx="12.5" cy="7.5" r="6.5"/><circle cx="18.8" cy="11" r="4"/><rect x="5.5" y="9" width="13.3" height="6"/></g><path d="M6.6,6.6 A5.2,5.2 0 0 1 10.6,12.4" fill="none" stroke="#2e5078" stroke-width="1.82"/></g><polyline points="5.0,3.5 0.7,11.0 4.7,11.0 0.2,18.0" fill="none" stroke="#b040b8" stroke-width="2.3" stroke-linejoin="miter"/></g><g transform="translate(179.30,115)"><line x1="-1.83" y1="-9.02" x2="-0.36" y2="-15.35" stroke="#f0b030" stroke-width="2.8"/><line x1="-1.83" y1="-9.02" x2="-0.36" y2="-15.35" stroke="#f2e530" stroke-width="2.0"/><line x1="2.54" y1="-5.91" x2="8.05" y2="-9.35" stroke="#f0b030" stroke-width="2.8"/><line x1="2.54" y1="-5.91" x2="8.05" y2="-9.35" stroke="#f2e530" stroke-width="2.0"/><line x1="3.42" y1="-0.63" x2="9.75" y2="0.84" stroke="#f0b030" stroke-width="2.8"/><line x1="3.42" y1="-0.63" x2="9.75" y2="0.84" stroke="#f2e530" stroke-width="2.0"/><line x1="0.31" y1="3.74" x2="3.75" y2="9.25" stroke="#f0b030" stroke-width="2.8"/><line x1="0.31" y1="3.74" x2="3.75" y2="9.25" stroke="#f2e530" stroke-width="2.0"/><line x1="-4.97" y1="4.62" x2="-6.44" y2="10.95" stroke="#f0b030" stroke-width="2.8"/><line x1="-4.97" y1="4.62" x2="-6.44" y2="10.95" stroke="#f2e530" stroke-width="2.0"/><line x1="-9.34" y1="1.51" x2="-14.85" y2="4.95" stroke="#f0b030" stroke-width="2.8"/><line x1="-9.34" y1="1.51" x2="-14.85" y2="4.95" stroke="#f2e530" stroke-width="2.0"/><line x1="-10.22" y1="-3.77" x2="-16.55" y2="-5.24" stroke="#f0b030" stroke-width="2.8"/><line x1="-10.22" y1="-3.77" x2="-16.55" y2="-5.24" stroke="#f2e530" stroke-width="2.0"/><line x1="-7.11" y1="-8.14" x2="-10.55" y2="-13.65" stroke="#f0b030" stroke-width="2.8"/><line x1="-7.11" y1="-8.14" x2="-10.55" y2="-13.65" stroke="#f2e530" stroke-width="2.0"/><circle cx="-3.4" cy="-2.2" r="6.5" fill="#f4e41e" stroke="#f0a830" stroke-width="0.9"/><g transform="translate(-4.20,-0.80) scale(0.827)"><g fill="#1f5ec4" stroke="#1f5ec4" stroke-width="4.11"><circle cx="5.5" cy="10.5" r="4.5"/><circle cx="12.5" cy="7.5" r="6.5"/><circle cx="18.8" cy="11" r="4"/><rect x="5.5" y="9" width="13.3" height="6"/></g><g fill="#ffffff"><circle cx="5.5" cy="10.5" r="4.5"/><circle cx="12.5" cy="7.5" r="6.5"/><circle cx="18.8" cy="11" r="4"/><rect x="5.5" y="9" width="13.3" height="6"/></g><path d="M6.6,6.6 A5.2,5.2 0 0 1 10.6,12.4" fill="none" stroke="#1f5ec4" stroke-width="2.05"/></g></g><g transform="translate(213.84,115)"><line x1="5.07" y1="-9.02" x2="6.54" y2="-15.35" stroke="#f0b030" stroke-width="2.8"/><line x1="5.07" y1="-9.02" x2="6.54" y2="-15.35" stroke="#f2e530" stroke-width="2.0"/><line x1="9.44" y1="-5.91" x2="14.95" y2="-9.35" stroke="#f0b030" stroke-width="2.8"/><line x1="9.44" y1="-5.91" x2="14.95" y2="-9.35" stroke="#f2e530" stroke-width="2.0"/><line x1="10.32" y1="-0.63" x2="16.65" y2="0.84" stroke="#f0b030" stroke-width="2.8"/><line x1="10.32" y1="-0.63" x2="16.65" y2="0.84" stroke="#f2e530" stroke-width="2.0"/><line x1="7.21" y1="3.74" x2="10.65" y2="9.25" stroke="#f0b030" stroke-width="2.8"/><line x1="7.21" y1="3.74" x2="10.65" y2="9.25" stroke="#f2e530" stroke-width="2.0"/><line x1="1.93" y1="4.62" x2="0.46" y2="10.95" stroke="#f0b030" stroke-width="2.8"/><line x1="1.93" y1="4.62" x2="0.46" y2="10.95" stroke="#f2e530" stroke-width="2.0"/><line x1="-2.44" y1="1.51" x2="-7.95" y2="4.95" stroke="#f0b030" stroke-width="2.8"/><line x1="-2.44" y1="1.51" x2="-7.95" y2="4.95" stroke="#f2e530" stroke-width="2.0"/><line x1="-3.32" y1="-3.77" x2="-9.65" y2="-5.24" stroke="#f0b030" stroke-width="2.8"/><line x1="-3.32" y1="-3.77" x2="-9.65" y2="-5.24" stroke="#f2e530" stroke-width="2.0"/><line x1="-0.21" y1="-8.14" x2="-3.65" y2="-13.65" stroke="#f0b030" stroke-width="2.8"/><line x1="-0.21" y1="-8.14" x2="-3.65" y2="-13.65" stroke="#f2e530" stroke-width="2.0"/><circle cx="3.5" cy="-2.2" r="6.5" fill="#f4e41e" stroke="#f0a830" stroke-width="0.9"/><g transform="translate(-16.60,-2.20) scale(0.991)"><g fill="#1f5ec4" stroke="#1f5ec4" stroke-width="3.43"><circle cx="5.5" cy="10.5" r="4.5"/><circle cx="12.5" cy="7.5" r="6.5"/><circle cx="18.8" cy="11" r="4"/><rect x="5.5" y="9" width="13.3" height="6"/></g><g fill="#d3d3d3"><circle cx="5.5" cy="10.5" r="4.5"/><circle cx="12.5" cy="7.5" r="6.5"/><circle cx="18.8" cy="11" r="4"/><rect x="5.5" y="9" width="13.3" height="6"/></g><path d="M6.6,6.6 A5.2,5.2 0 0 1 10.6,12.4" fill="none" stroke="#1f5ec4" stroke-width="1.72"/></g></g><g transform="translate(248.38,115)"><path d="M2.50,-14.20 A12.84,12.84 0 1 0 2.50,11.30 A16.91,16.91 0 0 1 2.50,-14.20 Z" fill="none" stroke="#000" stroke-width="1.45" stroke-linejoin="round"/><g transform="translate(-6.30,-1.00) scale(0.795)"><g fill="#2e5078" stroke="#2e5078" stroke-width="4.27"><circle cx="5.5" cy="10.5" r="4.5"/><circle cx="12.5" cy="7.5" r="6.5"/><circle cx="18.8" cy="11" r="4"/><rect x="5.5" y="9" width="13.3" height="6"/></g><g fill="#d3d3d3"><circle cx="5.5" cy="10.5" r="4.5"/><circle cx="12.5" cy="7.5" r="6.5"/><circle cx="18.8" cy="11" r="4"/><rect x="5.5" y="9" width="13.3" height="6"/></g><path d="M6.6,6.6 A5.2,5.2 0 0 1 10.6,12.4" fill="none" stroke="#2e5078" stroke-width="2.14"/></g></g><g transform="translate(282.91,115)"><path d="M2.50,-14.20 A12.84,12.84 0 1 0 2.50,11.30 A16.91,16.91 0 0 1 2.50,-14.20 Z" fill="none" stroke="#000" stroke-width="1.45" stroke-linejoin="round"/><g transform="translate(-6.30,-1.00) scale(0.795)"><g fill="#2e5078" stroke="#2e5078" stroke-width="4.27"><circle cx="5.5" cy="10.5" r="4.5"/><circle cx="12.5" cy="7.5" r="6.5"/><circle cx="18.8" cy="11" r="4"/><rect x="5.5" y="9" width="13.3" height="6"/></g><g fill="#d3d3d3"><circle cx="5.5" cy="10.5" r="4.5"/><circle cx="12.5" cy="7.5" r="6.5"/><circle cx="18.8" cy="11" r="4"/><rect x="5.5" y="9" width="13.3" height="6"/></g><path d="M6.6,6.6 A5.2,5.2 0 0 1 10.6,12.4" fill="none" stroke="#2e5078" stroke-width="2.14"/></g></g><g transform="translate(317.45,115)"><line x1="-1.83" y1="-9.02" x2="-0.36" y2="-15.35" stroke="#f0b030" stroke-width="2.8"/><line x1="-1.83" y1="-9.02" x2="-0.36" y2="-15.35" stroke="#f2e530" stroke-width="2.0"/><line x1="2.54" y1="-5.91" x2="8.05" y2="-9.35" stroke="#f0b030" stroke-width="2.8"/><line x1="2.54" y1="-5.91" x2="8.05" y2="-9.35" stroke="#f2e530" stroke-width="2.0"/><line x1="3.42" y1="-0.63" x2="9.75" y2="0.84" stroke="#f0b030" stroke-width="2.8"/><line x1="3.42" y1="-0.63" x2="9.75" y2="0.84" stroke="#f2e530" stroke-width="2.0"/><line x1="0.31" y1="3.74" x2="3.75" y2="9.25" stroke="#f0b030" stroke-width="2.8"/><line x1="0.31" y1="3.74" x2="3.75" y2="9.25" stroke="#f2e530" stroke-width="2.0"/><line x1="-4.97" y1="4.62" x2="-6.44" y2="10.95" stroke="#f0b030" stroke-width="2.8"/><line x1="-4.97" y1="4.62" x2="-6.44" y2="10.95" stroke="#f2e530" stroke-width="2.0"/><line x1="-9.34" y1="1.51" x2="-14.85" y2="4.95" stroke="#f0b030" stroke-width="2.8"/><line x1="-9.34" y1="1.51" x2="-14.85" y2="4.95" stroke="#f2e530" stroke-width="2.0"/><line x1="-10.22" y1="-3.77" x2="-16.55" y2="-5.24" stroke="#f0b030" stroke-width="2.8"/><line x1="-10.22" y1="-3.77" x2="-16.55" y2="-5.24" stroke="#f2e530" stroke-width="2.0"/><line x1="-7.11" y1="-8.14" x2="-10.55" y2="-13.65" stroke="#f0b030" stroke-width="2.8"/><line x1="-7.11" y1="-8.14" x2="-10.55" y2="-13.65" stroke="#f2e530" stroke-width="2.0"/><circle cx="-3.4" cy="-2.2" r="6.5" fill="#f4e41e" stroke="#f0a830" stroke-width="0.9"/><g transform="translate(-4.20,-0.80) scale(0.827)"><g fill="#1f5ec4" stroke="#1f5ec4" stroke-width="4.11"><circle cx="5.5" cy="10.5" r="4.5"/><circle cx="12.5" cy="7.5" r="6.5"/><circle cx="18.8" cy="11" r="4"/><rect x="5.5" y="9" width="13.3" height="6"/></g><g fill="#ffffff"><circle cx="5.5" cy="10.5" r="4.5"/><circle cx="12.5" cy="7.5" r="6.5"/><circle cx="18.8" cy="11" r="4"/><rect x="5.5" y="9" width="13.3" height="6"/></g><path d="M6.6,6.6 A5.2,5.2 0 0 1 10.6,12.4" fill="none" stroke="#1f5ec4" stroke-width="2.05"/></g></g><g transform="translate(351.98,115)"><line x1="5.07" y1="-9.02" x2="6.54" y2="-15.35" stroke="#f0b030" stroke-width="2.8"/><line x1="5.07" y1="-9.02" x2="6.54" y2="-15.35" stroke="#f2e530" stroke-width="2.0"/><line x1="9.44" y1="-5.91" x2="14.95" y2="-9.35" stroke="#f0b030" stroke-width="2.8"/><line x1="9.44" y1="-5.91" x2="14.95" y2="-9.35" stroke="#f2e530" stroke-width="2.0"/><line x1="10.32" y1="-0.63" x2="16.65" y2="0.84" stroke="#f0b030" stroke-width="2.8"/><line x1="10.32" y1="-0.63" x2="16.65" y2="0.84" stroke="#f2e530" stroke-width="2.0"/><line x1="7.21" y1="3.74" x2="10.65" y2="9.25" stroke="#f0b030" stroke-width="2.8"/><line x1="7.21" y1="3.74" x2="10.65" y2="9.25" stroke="#f2e530" stroke-width="2.0"/><line x1="1.93" y1="4.62" x2="0.46" y2="10.95" stroke="#f0b030" stroke-width="2.8"/><line x1="1.93" y1="4.62" x2="0.46" y2="10.95" stroke="#f2e530" stroke-width="2.0"/><line x1="-2.44" y1="1.51" x2="-7.95" y2="4.95" stroke="#f0b030" stroke-width="2.8"/><line x1="-2.44" y1="1.51" x2="-7.95" y2="4.95" stroke="#f2e530" stroke-width="2.0"/><line x1="-3.32" y1="-3.77" x2="-9.65" y2="-5.24" stroke="#f0b030" stroke-width="2.8"/><line x1="-3.32" y1="-3.77" x2="-9.65" y2="-5.24" stroke="#f2e530" stroke-width="2.0"/><line x1="-0.21" y1="-8.14" x2="-3.65" y2="-13.65" stroke="#f0b030" stroke-width="2.8"/><line x1="-0.21" y1="-8.14" x2="-3.65" y2="-13.65" stroke="#f2e530" stroke-width="2.0"/><circle cx="3.5" cy="-2.2" r="6.5" fill="#f4e41e" stroke="#f0a830" stroke-width="0.9"/><g transform="translate(-16.60,-2.20) scale(0.991)"><g fill="#1f5ec4" stroke="#1f5ec4" stroke-width="3.43"><circle cx="5.5" cy="10.5" r="4.5"/><circle cx="12.5" cy="7.5" r="6.5"/><circle cx="18.8" cy="11" r="4"/><rect x="5.5" y="9" width="13.3" height="6"/></g><g fill="#d3d3d3"><circle cx="5.5" cy="10.5" r="4.5"/><circle cx="12.5" cy="7.5" r="6.5"/><circle cx="18.8" cy="11" r="4"/><rect x="5.5" y="9" width="13.3" height="6"/></g><path d="M6.6,6.6 A5.2,5.2 0 0 1 10.6,12.4" fill="none" stroke="#1f5ec4" stroke-width="1.72"/></g></g><g transform="translate(386.52,115)"><path d="M2.50,-14.20 A12.84,12.84 0 1 0 2.50,11.30 A16.91,16.91 0 0 1 2.50,-14.20 Z" fill="none" stroke="#000" stroke-width="1.45" stroke-linejoin="round"/><g transform="translate(-6.30,-1.00) scale(0.795)"><g fill="#2e5078" stroke="#2e5078" stroke-width="4.27"><circle cx="5.5" cy="10.5" r="4.5"/><circle cx="12.5" cy="7.5" r="6.5"/><circle cx="18.8" cy="11" r="4"/><rect x="5.5" y="9" width="13.3" height="6"/></g><g fill="#d3d3d3"><circle cx="5.5" cy="10.5" r="4.5"/><circle cx="12.5" cy="7.5" r="6.5"/><circle cx="18.8" cy="11" r="4"/><rect x="5.5" y="9" width="13.3" height="6"/></g><path d="M6.6,6.6 A5.2,5.2 0 0 1 10.6,12.4" fill="none" stroke="#2e5078" stroke-width="2.14"/></g></g><g transform="translate(421.05,115)"><path d="M6.30,-14.40 A12.93,12.93 0 1 0 6.30,11.30 A17.13,17.13 0 0 1 6.30,-14.40 Z" fill="none" stroke="#000" stroke-width="1.45" stroke-linejoin="round"/></g><g transform="translate(455.59,115)"><line x1="-1.83" y1="-9.02" x2="-0.36" y2="-15.35" stroke="#f0b030" stroke-width="2.8"/><line x1="-1.83" y1="-9.02" x2="-0.36" y2="-15.35" stroke="#f2e530" stroke-width="2.0"/><line x1="2.54" y1="-5.91" x2="8.05" y2="-9.35" stroke="#f0b030" stroke-width="2.8"/><line x1="2.54" y1="-5.91" x2="8.05" y2="-9.35" stroke="#f2e530" stroke-width="2.0"/><line x1="3.42" y1="-0.63" x2="9.75" y2="0.84" stroke="#f0b030" stroke-width="2.8"/><line x1="3.42" y1="-0.63" x2="9.75" y2="0.84" stroke="#f2e530" stroke-width="2.0"/><line x1="0.31" y1="3.74" x2="3.75" y2="9.25" stroke="#f0b030" stroke-width="2.8"/><line x1="0.31" y1="3.74" x2="3.75" y2="9.25" stroke="#f2e530" stroke-width="2.0"/><line x1="-4.97" y1="4.62" x2="-6.44" y2="10.95" stroke="#f0b030" stroke-width="2.8"/><line x1="-4.97" y1="4.62" x2="-6.44" y2="10.95" stroke="#f2e530" stroke-width="2.0"/><line x1="-9.34" y1="1.51" x2="-14.85" y2="4.95" stroke="#f0b030" stroke-width="2.8"/><line x1="-9.34" y1="1.51" x2="-14.85" y2="4.95" stroke="#f2e530" stroke-width="2.0"/><line x1="-10.22" y1="-3.77" x2="-16.55" y2="-5.24" stroke="#f0b030" stroke-width="2.8"/><line x1="-10.22" y1="-3.77" x2="-16.55" y2="-5.24" stroke="#f2e530" stroke-width="2.0"/><line x1="-7.11" y1="-8.14" x2="-10.55" y2="-13.65" stroke="#f0b030" stroke-width="2.8"/><line x1="-7.11" y1="-8.14" x2="-10.55" y2="-13.65" stroke="#f2e530" stroke-width="2.0"/><circle cx="-3.4" cy="-2.2" r="6.5" fill="#f4e41e" stroke="#f0a830" stroke-width="0.9"/><g transform="translate(-4.20,-0.80) scale(0.827)"><g fill="#1f5ec4" stroke="#1f5ec4" stroke-width="4.11"><circle cx="5.5" cy="10.5" r="4.5"/><circle cx="12.5" cy="7.5" r="6.5"/><circle cx="18.8" cy="11" r="4"/><rect x="5.5" y="9" width="13.3" height="6"/></g><g fill="#ffffff"><circle cx="5.5" cy="10.5" r="4.5"/><circle cx="12.5" cy="7.5" r="6.5"/><circle cx="18.8" cy="11" r="4"/><rect x="5.5" y="9" width="13.3" height="6"/></g><path d="M6.6,6.6 A5.2,5.2 0 0 1 10.6,12.4" fill="none" stroke="#1f5ec4" stroke-width="2.05"/></g></g><g transform="translate(490.12,115)"><line x1="-1.83" y1="-9.02" x2="-0.36" y2="-15.35" stroke="#f0b030" stroke-width="2.8"/><line x1="-1.83" y1="-9.02" x2="-0.36" y2="-15.35" stroke="#f2e530" stroke-width="2.0"/><line x1="2.54" y1="-5.91" x2="8.05" y2="-9.35" stroke="#f0b030" stroke-width="2.8"/><line x1="2.54" y1="-5.91" x2="8.05" y2="-9.35" stroke="#f2e530" stroke-width="2.0"/><line x1="3.42" y1="-0.63" x2="9.75" y2="0.84" stroke="#f0b030" stroke-width="2.8"/><line x1="3.42" y1="-0.63" x2="9.75" y2="0.84" stroke="#f2e530" stroke-width="2.0"/><line x1="0.31" y1="3.74" x2="3.75" y2="9.25" stroke="#f0b030" stroke-width="2.8"/><line x1="0.31" y1="3.74" x2="3.75" y2="9.25" stroke="#f2e530" stroke-width="2.0"/><line x1="-4.97" y1="4.62" x2="-6.44" y2="10.95" stroke="#f0b030" stroke-width="2.8"/><line x1="-4.97" y1="4.62" x2="-6.44" y2="10.95" stroke="#f2e530" stroke-width="2.0"/><line x1="-9.34" y1="1.51" x2="-14.85" y2="4.95" stroke="#f0b030" stroke-width="2.8"/><line x1="-9.34" y1="1.51" x2="-14.85" y2="4.95" stroke="#f2e530" stroke-width="2.0"/><line x1="-10.22" y1="-3.77" x2="-16.55" y2="-5.24" stroke="#f0b030" stroke-width="2.8"/><line x1="-10.22" y1="-3.77" x2="-16.55" y2="-5.24" stroke="#f2e530" stroke-width="2.0"/><line x1="-7.11" y1="-8.14" x2="-10.55" y2="-13.65" stroke="#f0b030" stroke-width="2.8"/><line x1="-7.11" y1="-8.14" x2="-10.55" y2="-13.65" stroke="#f2e530" stroke-width="2.0"/><circle cx="-3.4" cy="-2.2" r="6.5" fill="#f4e41e" stroke="#f0a830" stroke-width="0.9"/><g transform="translate(-4.20,-0.80) scale(0.827)"><g fill="#1f5ec4" stroke="#1f5ec4" stroke-width="4.11"><circle cx="5.5" cy="10.5" r="4.5"/><circle cx="12.5" cy="7.5" r="6.5"/><circle cx="18.8" cy="11" r="4"/><rect x="5.5" y="9" width="13.3" height="6"/></g><g fill="#ffffff"><circle cx="5.5" cy="10.5" r="4.5"/><circle cx="12.5" cy="7.5" r="6.5"/><circle cx="18.8" cy="11" r="4"/><rect x="5.5" y="9" width="13.3" height="6"/></g><path d="M6.6,6.6 A5.2,5.2 0 0 1 10.6,12.4" fill="none" stroke="#1f5ec4" stroke-width="2.05"/></g></g><g transform="translate(524.66,115)"><path d="M0.50,-14.20 A12.84,12.84 0 1 0 0.50,11.30 A16.91,16.91 0 0 1 0.50,-14.20 Z" fill="none" stroke="#000" stroke-width="1.45" stroke-linejoin="round"/><g transform="translate(-9.20,-3.50) scale(0.977)"><g fill="#2e5078" stroke="#2e5078" stroke-width="3.48"><circle cx="5.5" cy="10.5" r="4.5"/><circle cx="12.5" cy="7.5" r="6.5"/><circle cx="18.8" cy="11" r="4"/><rect x="5.5" y="9" width="13.3" height="6"/></g><g fill="#d3d3d3"><circle cx="5.5" cy="10.5" r="4.5"/><circle cx="12.5" cy="7.5" r="6.5"/><circle cx="18.8" cy="11" r="4"/><rect x="5.5" y="9" width="13.3" height="6"/></g><path d="M6.6,6.6 A5.2,5.2 0 0 1 10.6,12.4" fill="none" stroke="#2e5078" stroke-width="1.74"/></g><line x1="2.80" y1="12.8" x2="1.60" y2="18.2" stroke="#2e5078" stroke-width="2.3"/><line x1="8.20" y1="12.8" x2="7.00" y2="18.2" stroke="#2e5078" stroke-width="2.3"/></g><g transform="translate(559.20,115)"><path d="M0.50,-14.20 A12.84,12.84 0 1 0 0.50,11.30 A16.91,16.91 0 0 1 0.50,-14.20 Z" fill="none" stroke="#000" stroke-width="1.45" stroke-linejoin="round"/><g transform="translate(-9.20,-3.50) scale(0.977)"><g fill="#2e5078" stroke="#2e5078" stroke-width="3.48"><circle cx="5.5" cy="10.5" r="4.5"/><circle cx="12.5" cy="7.5" r="6.5"/><circle cx="18.8" cy="11" r="4"/><rect x="5.5" y="9" width="13.3" height="6"/></g><g fill="#d3d3d3"><circle cx="5.5" cy="10.5" r="4.5"/><circle cx="12.5" cy="7.5" r="6.5"/><circle cx="18.8" cy="11" r="4"/><rect x="5.5" y="9" width="13.3" height="6"/></g><path d="M6.6,6.6 A5.2,5.2 0 0 1 10.6,12.4" fill="none" stroke="#2e5078" stroke-width="1.74"/></g><line x1="2.80" y1="12.8" x2="1.60" y2="18.2" stroke="#2e5078" stroke-width="2.3"/><line x1="8.20" y1="12.8" x2="7.00" y2="18.2" stroke="#2e5078" stroke-width="2.3"/></g><g transform="translate(593.73,115)"><line x1="5.67" y1="-9.02" x2="7.14" y2="-15.35" stroke="#f0b030" stroke-width="2.8"/><line x1="5.67" y1="-9.02" x2="7.14" y2="-15.35" stroke="#f2e530" stroke-width="2.0"/><line x1="10.04" y1="-5.91" x2="15.55" y2="-9.35" stroke="#f0b030" stroke-width="2.8"/><line x1="10.04" y1="-5.91" x2="15.55" y2="-9.35" stroke="#f2e530" stroke-width="2.0"/><line x1="10.92" y1="-0.63" x2="17.25" y2="0.84" stroke="#f0b030" stroke-width="2.8"/><line x1="10.92" y1="-0.63" x2="17.25" y2="0.84" stroke="#f2e530" stroke-width="2.0"/><line x1="7.81" y1="3.74" x2="11.25" y2="9.25" stroke="#f0b030" stroke-width="2.8"/><line x1="7.81" y1="3.74" x2="11.25" y2="9.25" stroke="#f2e530" stroke-width="2.0"/><line x1="2.53" y1="4.62" x2="1.06" y2="10.95" stroke="#f0b030" stroke-width="2.8"/><line x1="2.53" y1="4.62" x2="1.06" y2="10.95" stroke="#f2e530" stroke-width="2.0"/><line x1="-1.84" y1="1.51" x2="-7.35" y2="4.95" stroke="#f0b030" stroke-width="2.8"/><line x1="-1.84" y1="1.51" x2="-7.35" y2="4.95" stroke="#f2e530" stroke-width="2.0"/><line x1="-2.72" y1="-3.77" x2="-9.05" y2="-5.24" stroke="#f0b030" stroke-width="2.8"/><line x1="-2.72" y1="-3.77" x2="-9.05" y2="-5.24" stroke="#f2e530" stroke-width="2.0"/><line x1="0.39" y1="-8.14" x2="-3.05" y2="-13.65" stroke="#f0b030" stroke-width="2.8"/><line x1="0.39" y1="-8.14" x2="-3.05" y2="-13.65" stroke="#f2e530" stroke-width="2.0"/><circle cx="4.1" cy="-2.2" r="6.5" fill="#f4e41e" stroke="#f0a830" stroke-width="0.9"/><g transform="translate(-16.00,-2.20) scale(0.991)"><g fill="#1f5ec4" stroke="#1f5ec4" stroke-width="3.43"><circle cx="5.5" cy="10.5" r="4.5"/><circle cx="12.5" cy="7.5" r="6.5"/><circle cx="18.8" cy="11" r="4"/><rect x="5.5" y="9" width="13.3" height="6"/></g><g fill="#d3d3d3"><circle cx="5.5" cy="10.5" r="4.5"/><circle cx="12.5" cy="7.5" r="6.5"/><circle cx="18.8" cy="11" r="4"/><rect x="5.5" y="9" width="13.3" height="6"/></g><path d="M6.6,6.6 A5.2,5.2 0 0 1 10.6,12.4" fill="none" stroke="#1f5ec4" stroke-width="1.72"/></g><line x1="-7.40" y1="14.5" x2="-8.20" y2="18.2" stroke="#3a68c8" stroke-width="2.4"/><line x1="-3.00" y1="14.5" x2="-3.80" y2="18.2" stroke="#3a68c8" stroke-width="2.4"/></g><g transform="translate(628.27,115)"><line x1="5.67" y1="-9.02" x2="7.14" y2="-15.35" stroke="#f0b030" stroke-width="2.8"/><line x1="5.67" y1="-9.02" x2="7.14" y2="-15.35" stroke="#f2e530" stroke-width="2.0"/><line x1="10.04" y1="-5.91" x2="15.55" y2="-9.35" stroke="#f0b030" stroke-width="2.8"/><line x1="10.04" y1="-5.91" x2="15.55" y2="-9.35" stroke="#f2e530" stroke-width="2.0"/><line x1="10.92" y1="-0.63" x2="17.25" y2="0.84" stroke="#f0b030" stroke-width="2.8"/><line x1="10.92" y1="-0.63" x2="17.25" y2="0.84" stroke="#f2e530" stroke-width="2.0"/><line x1="7.81" y1="3.74" x2="11.25" y2="9.25" stroke="#f0b030" stroke-width="2.8"/><line x1="7.81" y1="3.74" x2="11.25" y2="9.25" stroke="#f2e530" stroke-width="2.0"/><line x1="2.53" y1="4.62" x2="1.06" y2="10.95" stroke="#f0b030" stroke-width="2.8"/><line x1="2.53" y1="4.62" x2="1.06" y2="10.95" stroke="#f2e530" stroke-width="2.0"/><line x1="-1.84" y1="1.51" x2="-7.35" y2="4.95" stroke="#f0b030" stroke-width="2.8"/><line x1="-1.84" y1="1.51" x2="-7.35" y2="4.95" stroke="#f2e530" stroke-width="2.0"/><line x1="-2.72" y1="-3.77" x2="-9.05" y2="-5.24" stroke="#f0b030" stroke-width="2.8"/><line x1="-2.72" y1="-3.77" x2="-9.05" y2="-5.24" stroke="#f2e530" stroke-width="2.0"/><line x1="0.39" y1="-8.14" x2="-3.05" y2="-13.65" stroke="#f0b030" stroke-width="2.8"/><line x1="0.39" y1="-8.14" x2="-3.05" y2="-13.65" stroke="#f2e530" stroke-width="2.0"/><circle cx="4.1" cy="-2.2" r="6.5" fill="#f4e41e" stroke="#f0a830" stroke-width="0.9"/><g transform="translate(-16.00,-2.20) scale(0.991)"><g fill="#1f5ec4" stroke="#1f5ec4" stroke-width="3.43"><circle cx="5.5" cy="10.5" r="4.5"/><circle cx="12.5" cy="7.5" r="6.5"/><circle cx="18.8" cy="11" r="4"/><rect x="5.5" y="9" width="13.3" height="6"/></g><g fill="#d3d3d3"><circle cx="5.5" cy="10.5" r="4.5"/><circle cx="12.5" cy="7.5" r="6.5"/><circle cx="18.8" cy="11" r="4"/><rect x="5.5" y="9" width="13.3" height="6"/></g><path d="M6.6,6.6 A5.2,5.2 0 0 1 10.6,12.4" fill="none" stroke="#1f5ec4" stroke-width="1.72"/></g><line x1="-7.40" y1="14.5" x2="-8.20" y2="18.2" stroke="#3a68c8" stroke-width="2.4"/><line x1="-3.00" y1="14.5" x2="-3.80" y2="18.2" stroke="#3a68c8" stroke-width="2.4"/></g><g transform="translate(662.80,115)"><path d="M0.50,-14.20 A12.84,12.84 0 1 0 0.50,11.30 A16.91,16.91 0 0 1 0.50,-14.20 Z" fill="none" stroke="#000" stroke-width="1.45" stroke-linejoin="round"/><g transform="translate(-9.20,-3.50) scale(0.977)"><g fill="#2e5078" stroke="#2e5078" stroke-width="3.48"><circle cx="5.5" cy="10.5" r="4.5"/><circle cx="12.5" cy="7.5" r="6.5"/><circle cx="18.8" cy="11" r="4"/><rect x="5.5" y="9" width="13.3" height="6"/></g><g fill="#d3d3d3"><circle cx="5.5" cy="10.5" r="4.5"/><circle cx="12.5" cy="7.5" r="6.5"/><circle cx="18.8" cy="11" r="4"/><rect x="5.5" y="9" width="13.3" height="6"/></g><path d="M6.6,6.6 A5.2,5.2 0 0 1 10.6,12.4" fill="none" stroke="#2e5078" stroke-width="1.74"/></g><line x1="2.80" y1="12.8" x2="1.60" y2="18.2" stroke="#2e5078" stroke-width="2.3"/><line x1="8.20" y1="12.8" x2="7.00" y2="18.2" stroke="#2e5078" stroke-width="2.3"/></g><g transform="translate(697.34,115)"><path d="M4.40,-13.90 A12.44,12.44 0 1 0 4.40,10.90 A17.16,17.16 0 0 1 4.40,-13.90 Z" fill="none" stroke="#000" stroke-width="1.45" stroke-linejoin="round"/><line x1="-18.5" y1="0.5" x2="19" y2="0.5" stroke="#2d5080" stroke-width="1.6"/><line x1="-17.5" y1="3.7" x2="17" y2="3.7" stroke="#2d5080" stroke-width="1.2"/><line x1="-15" y1="8.4" x2="16" y2="8.4" stroke="#2d5080" stroke-width="2.6"/></g><g transform="translate(731.88,115)"><line x1="5.07" y1="-9.02" x2="6.54" y2="-15.35" stroke="#f0b030" stroke-width="2.8"/><line x1="5.07" y1="-9.02" x2="6.54" y2="-15.35" stroke="#f2e530" stroke-width="2.0"/><line x1="9.44" y1="-5.91" x2="14.95" y2="-9.35" stroke="#f0b030" stroke-width="2.8"/><line x1="9.44" y1="-5.91" x2="14.95" y2="-9.35" stroke="#f2e530" stroke-width="2.0"/><line x1="10.32" y1="-0.63" x2="16.65" y2="0.84" stroke="#f0b030" stroke-width="2.8"/><line x1="10.32" y1="-0.63" x2="16.65" y2="0.84" stroke="#f2e530" stroke-width="2.0"/><line x1="7.21" y1="3.74" x2="10.65" y2="9.25" stroke="#f0b030" stroke-width="2.8"/><line x1="7.21" y1="3.74" x2="10.65" y2="9.25" stroke="#f2e530" stroke-width="2.0"/><line x1="1.93" y1="4.62" x2="0.46" y2="10.95" stroke="#f0b030" stroke-width="2.8"/><line x1="1.93" y1="4.62" x2="0.46" y2="10.95" stroke="#f2e530" stroke-width="2.0"/><line x1="-2.44" y1="1.51" x2="-7.95" y2="4.95" stroke="#f0b030" stroke-width="2.8"/><line x1="-2.44" y1="1.51" x2="-7.95" y2="4.95" stroke="#f2e530" stroke-width="2.0"/><line x1="-3.32" y1="-3.77" x2="-9.65" y2="-5.24" stroke="#f0b030" stroke-width="2.8"/><line x1="-3.32" y1="-3.77" x2="-9.65" y2="-5.24" stroke="#f2e530" stroke-width="2.0"/><line x1="-0.21" y1="-8.14" x2="-3.65" y2="-13.65" stroke="#f0b030" stroke-width="2.8"/><line x1="-0.21" y1="-8.14" x2="-3.65" y2="-13.65" stroke="#f2e530" stroke-width="2.0"/><circle cx="3.5" cy="-2.2" r="6.5" fill="#f4e41e" stroke="#f0a830" stroke-width="0.9"/><g transform="translate(-16.60,-2.20) scale(0.991)"><g fill="#1f5ec4" stroke="#1f5ec4" stroke-width="3.43"><circle cx="5.5" cy="10.5" r="4.5"/><circle cx="12.5" cy="7.5" r="6.5"/><circle cx="18.8" cy="11" r="4"/><rect x="5.5" y="9" width="13.3" height="6"/></g><g fill="#d3d3d3"><circle cx="5.5" cy="10.5" r="4.5"/><circle cx="12.5" cy="7.5" r="6.5"/><circle cx="18.8" cy="11" r="4"/><rect x="5.5" y="9" width="13.3" height="6"/></g><path d="M6.6,6.6 A5.2,5.2 0 0 1 10.6,12.4" fill="none" stroke="#1f5ec4" stroke-width="1.72"/></g></g><g transform="translate(766.41,115)"><line x1="5.07" y1="-9.02" x2="6.54" y2="-15.35" stroke="#f0b030" stroke-width="2.8"/><line x1="5.07" y1="-9.02" x2="6.54" y2="-15.35" stroke="#f2e530" stroke-width="2.0"/><line x1="9.44" y1="-5.91" x2="14.95" y2="-9.35" stroke="#f0b030" stroke-width="2.8"/><line x1="9.44" y1="-5.91" x2="14.95" y2="-9.35" stroke="#f2e530" stroke-width="2.0"/><line x1="10.32" y1="-0.63" x2="16.65" y2="0.84" stroke="#f0b030" stroke-width="2.8"/><line x1="10.32" y1="-0.63" x2="16.65" y2="0.84" stroke="#f2e530" stroke-width="2.0"/><line x1="7.21" y1="3.74" x2="10.65" y2="9.25" stroke="#f0b030" stroke-width="2.8"/><line x1="7.21" y1="3.74" x2="10.65" y2="9.25" stroke="#f2e530" stroke-width="2.0"/><line x1="1.93" y1="4.62" x2="0.46" y2="10.95" stroke="#f0b030" stroke-width="2.8"/><line x1="1.93" y1="4.62" x2="0.46" y2="10.95" stroke="#f2e530" stroke-width="2.0"/><line x1="-2.44" y1="1.51" x2="-7.95" y2="4.95" stroke="#f0b030" stroke-width="2.8"/><line x1="-2.44" y1="1.51" x2="-7.95" y2="4.95" stroke="#f2e530" stroke-width="2.0"/><line x1="-3.32" y1="-3.77" x2="-9.65" y2="-5.24" stroke="#f0b030" stroke-width="2.8"/><line x1="-3.32" y1="-3.77" x2="-9.65" y2="-5.24" stroke="#f2e530" stroke-width="2.0"/><line x1="-0.21" y1="-8.14" x2="-3.65" y2="-13.65" stroke="#f0b030" stroke-width="2.8"/><line x1="-0.21" y1="-8.14" x2="-3.65" y2="-13.65" stroke="#f2e530" stroke-width="2.0"/><circle cx="3.5" cy="-2.2" r="6.5" fill="#f4e41e" stroke="#f0a830" stroke-width="0.9"/><g transform="translate(-16.60,-2.20) scale(0.991)"><g fill="#1f5ec4" stroke="#1f5ec4" stroke-width="3.43"><circle cx="5.5" cy="10.5" r="4.5"/><circle cx="12.5" cy="7.5" r="6.5"/><circle cx="18.8" cy="11" r="4"/><rect x="5.5" y="9" width="13.3" height="6"/></g><g fill="#d3d3d3"><circle cx="5.5" cy="10.5" r="4.5"/><circle cx="12.5" cy="7.5" r="6.5"/><circle cx="18.8" cy="11" r="4"/><rect x="5.5" y="9" width="13.3" height="6"/></g><path d="M6.6,6.6 A5.2,5.2 0 0 1 10.6,12.4" fill="none" stroke="#1f5ec4" stroke-width="1.72"/></g></g><g transform="translate(800.95,115)"><path d="M0.30,-14.20 A12.84,12.84 0 1 0 0.30,11.30 A16.91,16.91 0 0 1 0.30,-14.20 Z" fill="none" stroke="#000" stroke-width="1.45" stroke-linejoin="round"/><g transform="translate(-9.40,-5.30) scale(1.145)"><g fill="#2e5078" stroke="#2e5078" stroke-width="2.97"><circle cx="5.5" cy="10.5" r="4.5"/><circle cx="12.5" cy="7.5" r="6.5"/><circle cx="18.8" cy="11" r="4"/><rect x="5.5" y="9" width="13.3" height="6"/></g><g fill="#d3d3d3"><circle cx="5.5" cy="10.5" r="4.5"/><circle cx="12.5" cy="7.5" r="6.5"/><circle cx="18.8" cy="11" r="4"/><rect x="5.5" y="9" width="13.3" height="6"/></g><path d="M6.6,6.6 A5.2,5.2 0 0 1 10.6,12.4" fill="none" stroke="#2e5078" stroke-width="1.48"/></g></g><g transform="translate(835.48,115)"><path d="M0.00,-14.20 A12.84,12.84 0 1 0 0.00,11.30 A16.91,16.91 0 0 1 0.00,-14.20 Z" fill="none" stroke="#000" stroke-width="1.45" stroke-linejoin="round"/><g transform="translate(-9.40,-5.30) scale(1.145)"><g fill="#2e5078" stroke="#2e5078" stroke-width="2.97"><circle cx="5.5" cy="10.5" r="4.5"/><circle cx="12.5" cy="7.5" r="6.5"/><circle cx="18.8" cy="11" r="4"/><rect x="5.5" y="9" width="13.3" height="6"/></g><g fill="#d3d3d3"><circle cx="5.5" cy="10.5" r="4.5"/><circle cx="12.5" cy="7.5" r="6.5"/><circle cx="18.8" cy="11" r="4"/><rect x="5.5" y="9" width="13.3" height="6"/></g><path d="M6.6,6.6 A5.2,5.2 0 0 1 10.6,12.4" fill="none" stroke="#2e5078" stroke-width="1.48"/></g><line x1="-5.20" y1="13.6" x2="-6.20" y2="18.6" stroke="#2e5078" stroke-width="2.4"/><line x1="-1.60" y1="13.6" x2="-2.60" y2="18.6" stroke="#2e5078" stroke-width="2.4"/><line x1="2.30" y1="13.6" x2="1.30" y2="18.6" stroke="#2e5078" stroke-width="2.4"/><line x1="6.30" y1="13.6" x2="5.30" y2="18.6" stroke="#2e5078" stroke-width="2.4"/></g><g transform="translate(870.02,115)"><line x1="5.67" y1="-9.02" x2="7.14" y2="-15.35" stroke="#f0b030" stroke-width="2.8"/><line x1="5.67" y1="-9.02" x2="7.14" y2="-15.35" stroke="#f2e530" stroke-width="2.0"/><line x1="10.04" y1="-5.91" x2="15.55" y2="-9.35" stroke="#f0b030" stroke-width="2.8"/><line x1="10.04" y1="-5.91" x2="15.55" y2="-9.35" stroke="#f2e530" stroke-width="2.0"/><line x1="10.92" y1="-0.63" x2="17.25" y2="0.84" stroke="#f0b030" stroke-width="2.8"/><line x1="10.92" y1="-0.63" x2="17.25" y2="0.84" stroke="#f2e530" stroke-width="2.0"/><line x1="7.81" y1="3.74" x2="11.25" y2="9.25" stroke="#f0b030" stroke-width="2.8"/><line x1="7.81" y1="3.74" x2="11.25" y2="9.25" stroke="#f2e530" stroke-width="2.0"/><line x1="2.53" y1="4.62" x2="1.06" y2="10.95" stroke="#f0b030" stroke-width="2.8"/><line x1="2.53" y1="4.62" x2="1.06" y2="10.95" stroke="#f2e530" stroke-width="2.0"/><line x1="-1.84" y1="1.51" x2="-7.35" y2="4.95" stroke="#f0b030" stroke-width="2.8"/><line x1="-1.84" y1="1.51" x2="-7.35" y2="4.95" stroke="#f2e530" stroke-width="2.0"/><line x1="-2.72" y1="-3.77" x2="-9.05" y2="-5.24" stroke="#f0b030" stroke-width="2.8"/><line x1="-2.72" y1="-3.77" x2="-9.05" y2="-5.24" stroke="#f2e530" stroke-width="2.0"/><line x1="0.39" y1="-8.14" x2="-3.05" y2="-13.65" stroke="#f0b030" stroke-width="2.8"/><line x1="0.39" y1="-8.14" x2="-3.05" y2="-13.65" stroke="#f2e530" stroke-width="2.0"/><circle cx="4.1" cy="-2.2" r="6.5" fill="#f4e41e" stroke="#f0a830" stroke-width="0.9"/><g transform="translate(-16.00,-2.20) scale(0.991)"><g fill="#1f5ec4" stroke="#1f5ec4" stroke-width="3.43"><circle cx="5.5" cy="10.5" r="4.5"/><circle cx="12.5" cy="7.5" r="6.5"/><circle cx="18.8" cy="11" r="4"/><rect x="5.5" y="9" width="13.3" height="6"/></g><g fill="#d3d3d3"><circle cx="5.5" cy="10.5" r="4.5"/><circle cx="12.5" cy="7.5" r="6.5"/><circle cx="18.8" cy="11" r="4"/><rect x="5.5" y="9" width="13.3" height="6"/></g><path d="M6.6,6.6 A5.2,5.2 0 0 1 10.6,12.4" fill="none" stroke="#1f5ec4" stroke-width="1.72"/></g><line x1="-7.40" y1="14.5" x2="-8.20" y2="18.2" stroke="#3a68c8" stroke-width="2.4"/><line x1="-3.00" y1="14.5" x2="-3.80" y2="18.2" stroke="#3a68c8" stroke-width="2.4"/></g><g transform="translate(904.55,115)"><line x1="-0.83" y1="-8.62" x2="0.64" y2="-14.95" stroke="#f0b030" stroke-width="2.8"/><line x1="-0.83" y1="-8.62" x2="0.64" y2="-14.95" stroke="#f2e530" stroke-width="2.0"/><line x1="3.54" y1="-5.51" x2="9.05" y2="-8.95" stroke="#f0b030" stroke-width="2.8"/><line x1="3.54" y1="-5.51" x2="9.05" y2="-8.95" stroke="#f2e530" stroke-width="2.0"/><line x1="4.42" y1="-0.23" x2="10.75" y2="1.24" stroke="#f0b030" stroke-width="2.8"/><line x1="4.42" y1="-0.23" x2="10.75" y2="1.24" stroke="#f2e530" stroke-width="2.0"/><line x1="1.31" y1="4.14" x2="4.75" y2="9.65" stroke="#f0b030" stroke-width="2.8"/><line x1="1.31" y1="4.14" x2="4.75" y2="9.65" stroke="#f2e530" stroke-width="2.0"/><line x1="-3.97" y1="5.02" x2="-5.44" y2="11.35" stroke="#f0b030" stroke-width="2.8"/><line x1="-3.97" y1="5.02" x2="-5.44" y2="11.35" stroke="#f2e530" stroke-width="2.0"/><line x1="-8.34" y1="1.91" x2="-13.85" y2="5.35" stroke="#f0b030" stroke-width="2.8"/><line x1="-8.34" y1="1.91" x2="-13.85" y2="5.35" stroke="#f2e530" stroke-width="2.0"/><line x1="-9.22" y1="-3.37" x2="-15.55" y2="-4.84" stroke="#f0b030" stroke-width="2.8"/><line x1="-9.22" y1="-3.37" x2="-15.55" y2="-4.84" stroke="#f2e530" stroke-width="2.0"/><line x1="-6.11" y1="-7.74" x2="-9.55" y2="-13.25" stroke="#f0b030" stroke-width="2.8"/><line x1="-6.11" y1="-7.74" x2="-9.55" y2="-13.25" stroke="#f2e530" stroke-width="2.0"/><circle cx="-2.4" cy="-1.8" r="6.5" fill="#f4e41e" stroke="#f0a830" stroke-width="0.9"/><g transform="translate(-1.90,-2.80) scale(0.827)"><g fill="#1f5ec4" stroke="#1f5ec4" stroke-width="4.11"><circle cx="5.5" cy="10.5" r="4.5"/><circle cx="12.5" cy="7.5" r="6.5"/><circle cx="18.8" cy="11" r="4"/><rect x="5.5" y="9" width="13.3" height="6"/></g><g fill="#d3d3d3"><circle cx="5.5" cy="10.5" r="4.5"/><circle cx="12.5" cy="7.5" r="6.5"/><circle cx="18.8" cy="11" r="4"/><rect x="5.5" y="9" width="13.3" height="6"/></g><path d="M6.6,6.6 A5.2,5.2 0 0 1 10.6,12.4" fill="none" stroke="#1f5ec4" stroke-width="2.05"/></g><polyline points="8.6,4.3 4.3,11.8 8.3,11.8 3.8,18.8" fill="none" stroke="#b040b8" stroke-width="2.3" stroke-linejoin="miter"/></g><g transform="translate(939.09,115)"><path d="M0.50,-14.20 A12.84,12.84 0 1 0 0.50,11.30 A16.91,16.91 0 0 1 0.50,-14.20 Z" fill="none" stroke="#000" stroke-width="1.45" stroke-linejoin="round"/><g transform="translate(-7.00,-3.90) scale(0.955)"><g fill="#2e5078" stroke="#2e5078" stroke-width="3.56"><circle cx="5.5" cy="10.5" r="4.5"/><circle cx="12.5" cy="7.5" r="6.5"/><circle cx="18.8" cy="11" r="4"/><rect x="5.5" y="9" width="13.3" height="6"/></g><g fill="#d3d3d3"><circle cx="5.5" cy="10.5" r="4.5"/><circle cx="12.5" cy="7.5" r="6.5"/><circle cx="18.8" cy="11" r="4"/><rect x="5.5" y="9" width="13.3" height="6"/></g><path d="M6.6,6.6 A5.2,5.2 0 0 1 10.6,12.4" fill="none" stroke="#2e5078" stroke-width="1.78"/></g><polyline points="6.0,3.3 1.7,10.8 5.7,10.8 1.2,17.8" fill="none" stroke="#b040b8" stroke-width="2.3" stroke-linejoin="miter"/></g><g transform="translate(973.62,115)"><path d="M0.30,-14.20 A12.84,12.84 0 1 0 0.30,11.30 A16.91,16.91 0 0 1 0.30,-14.20 Z" fill="none" stroke="#000" stroke-width="1.45" stroke-linejoin="round"/><g transform="translate(-9.40,-5.30) scale(1.145)"><g fill="#2e5078" stroke="#2e5078" stroke-width="2.97"><circle cx="5.5" cy="10.5" r="4.5"/><circle cx="12.5" cy="7.5" r="6.5"/><circle cx="18.8" cy="11" r="4"/><rect x="5.5" y="9" width="13.3" height="6"/></g><g fill="#d3d3d3"><circle cx="5.5" cy="10.5" r="4.5"/><circle cx="12.5" cy="7.5" r="6.5"/><circle cx="18.8" cy="11" r="4"/><rect x="5.5" y="9" width="13.3" height="6"/></g><path d="M6.6,6.6 A5.2,5.2 0 0 1 10.6,12.4" fill="none" stroke="#2e5078" stroke-width="1.48"/></g></g><g transform="translate(1008.16,115)"><line x1="5.07" y1="-9.02" x2="6.54" y2="-15.35" stroke="#f0b030" stroke-width="2.8"/><line x1="5.07" y1="-9.02" x2="6.54" y2="-15.35" stroke="#f2e530" stroke-width="2.0"/><line x1="9.44" y1="-5.91" x2="14.95" y2="-9.35" stroke="#f0b030" stroke-width="2.8"/><line x1="9.44" y1="-5.91" x2="14.95" y2="-9.35" stroke="#f2e530" stroke-width="2.0"/><line x1="10.32" y1="-0.63" x2="16.65" y2="0.84" stroke="#f0b030" stroke-width="2.8"/><line x1="10.32" y1="-0.63" x2="16.65" y2="0.84" stroke="#f2e530" stroke-width="2.0"/><line x1="7.21" y1="3.74" x2="10.65" y2="9.25" stroke="#f0b030" stroke-width="2.8"/><line x1="7.21" y1="3.74" x2="10.65" y2="9.25" stroke="#f2e530" stroke-width="2.0"/><line x1="1.93" y1="4.62" x2="0.46" y2="10.95" stroke="#f0b030" stroke-width="2.8"/><line x1="1.93" y1="4.62" x2="0.46" y2="10.95" stroke="#f2e530" stroke-width="2.0"/><line x1="-2.44" y1="1.51" x2="-7.95" y2="4.95" stroke="#f0b030" stroke-width="2.8"/><line x1="-2.44" y1="1.51" x2="-7.95" y2="4.95" stroke="#f2e530" stroke-width="2.0"/><line x1="-3.32" y1="-3.77" x2="-9.65" y2="-5.24" stroke="#f0b030" stroke-width="2.8"/><line x1="-3.32" y1="-3.77" x2="-9.65" y2="-5.24" stroke="#f2e530" stroke-width="2.0"/><line x1="-0.21" y1="-8.14" x2="-3.65" y2="-13.65" stroke="#f0b030" stroke-width="2.8"/><line x1="-0.21" y1="-8.14" x2="-3.65" y2="-13.65" stroke="#f2e530" stroke-width="2.0"/><circle cx="3.5" cy="-2.2" r="6.5" fill="#f4e41e" stroke="#f0a830" stroke-width="0.9"/><g transform="translate(-16.60,-2.20) scale(0.991)"><g fill="#1f5ec4" stroke="#1f5ec4" stroke-width="3.43"><circle cx="5.5" cy="10.5" r="4.5"/><circle cx="12.5" cy="7.5" r="6.5"/><circle cx="18.8" cy="11" r="4"/><rect x="5.5" y="9" width="13.3" height="6"/></g><g fill="#d3d3d3"><circle cx="5.5" cy="10.5" r="4.5"/><circle cx="12.5" cy="7.5" r="6.5"/><circle cx="18.8" cy="11" r="4"/><rect x="5.5" y="9" width="13.3" height="6"/></g><path d="M6.6,6.6 A5.2,5.2 0 0 1 10.6,12.4" fill="none" stroke="#1f5ec4" stroke-width="1.72"/></g></g><g transform="translate(1042.70,115)"><line x1="5.67" y1="-9.02" x2="7.14" y2="-15.35" stroke="#f0b030" stroke-width="2.8"/><line x1="5.67" y1="-9.02" x2="7.14" y2="-15.35" stroke="#f2e530" stroke-width="2.0"/><line x1="10.04" y1="-5.91" x2="15.55" y2="-9.35" stroke="#f0b030" stroke-width="2.8"/><line x1="10.04" y1="-5.91" x2="15.55" y2="-9.35" stroke="#f2e530" stroke-width="2.0"/><line x1="10.92" y1="-0.63" x2="17.25" y2="0.84" stroke="#f0b030" stroke-width="2.8"/><line x1="10.92" y1="-0.63" x2="17.25" y2="0.84" stroke="#f2e530" stroke-width="2.0"/><line x1="7.81" y1="3.74" x2="11.25" y2="9.25" stroke="#f0b030" stroke-width="2.8"/><line x1="7.81" y1="3.74" x2="11.25" y2="9.25" stroke="#f2e530" stroke-width="2.0"/><line x1="2.53" y1="4.62" x2="1.06" y2="10.95" stroke="#f0b030" stroke-width="2.8"/><line x1="2.53" y1="4.62" x2="1.06" y2="10.95" stroke="#f2e530" stroke-width="2.0"/><line x1="-1.84" y1="1.51" x2="-7.35" y2="4.95" stroke="#f0b030" stroke-width="2.8"/><line x1="-1.84" y1="1.51" x2="-7.35" y2="4.95" stroke="#f2e530" stroke-width="2.0"/><line x1="-2.72" y1="-3.77" x2="-9.05" y2="-5.24" stroke="#f0b030" stroke-width="2.8"/><line x1="-2.72" y1="-3.77" x2="-9.05" y2="-5.24" stroke="#f2e530" stroke-width="2.0"/><line x1="0.39" y1="-8.14" x2="-3.05" y2="-13.65" stroke="#f0b030" stroke-width="2.8"/><line x1="0.39" y1="-8.14" x2="-3.05" y2="-13.65" stroke="#f2e530" stroke-width="2.0"/><circle cx="4.1" cy="-2.2" r="6.5" fill="#f4e41e" stroke="#f0a830" stroke-width="0.9"/><g transform="translate(-16.00,-2.20) scale(0.991)"><g fill="#1f5ec4" stroke="#1f5ec4" stroke-width="3.43"><circle cx="5.5" cy="10.5" r="4.5"/><circle cx="12.5" cy="7.5" r="6.5"/><circle cx="18.8" cy="11" r="4"/><rect x="5.5" y="9" width="13.3" height="6"/></g><g fill="#d3d3d3"><circle cx="5.5" cy="10.5" r="4.5"/><circle cx="12.5" cy="7.5" r="6.5"/><circle cx="18.8" cy="11" r="4"/><rect x="5.5" y="9" width="13.3" height="6"/></g><path d="M6.6,6.6 A5.2,5.2 0 0 1 10.6,12.4" fill="none" stroke="#1f5ec4" stroke-width="1.72"/></g><line x1="-7.40" y1="14.5" x2="-8.20" y2="18.2" stroke="#3a68c8" stroke-width="2.4"/><line x1="-3.00" y1="14.5" x2="-3.80" y2="18.2" stroke="#3a68c8" stroke-width="2.4"/></g><g transform="translate(1077.23,115)"><path d="M0.50,-14.20 A12.84,12.84 0 1 0 0.50,11.30 A16.91,16.91 0 0 1 0.50,-14.20 Z" fill="none" stroke="#000" stroke-width="1.45" stroke-linejoin="round"/><g transform="translate(-9.20,-3.50) scale(0.977)"><g fill="#2e5078" stroke="#2e5078" stroke-width="3.48"><circle cx="5.5" cy="10.5" r="4.5"/><circle cx="12.5" cy="7.5" r="6.5"/><circle cx="18.8" cy="11" r="4"/><rect x="5.5" y="9" width="13.3" height="6"/></g><g fill="#d3d3d3"><circle cx="5.5" cy="10.5" r="4.5"/><circle cx="12.5" cy="7.5" r="6.5"/><circle cx="18.8" cy="11" r="4"/><rect x="5.5" y="9" width="13.3" height="6"/></g><path d="M6.6,6.6 A5.2,5.2 0 0 1 10.6,12.4" fill="none" stroke="#2e5078" stroke-width="1.74"/></g><line x1="2.80" y1="12.8" x2="1.60" y2="18.2" stroke="#2e5078" stroke-width="2.3"/><line x1="8.20" y1="12.8" x2="7.00" y2="18.2" stroke="#2e5078" stroke-width="2.3"/></g><text x="123.4" y="366.4" font-family="DejaVu Sans, sans-serif" font-size="18" text-anchor="end">0</text><text x="123.4" y="328.9" font-family="DejaVu Sans, sans-serif" font-size="18" text-anchor="end">1</text><text x="123.4" y="291.4" font-family="DejaVu Sans, sans-serif" font-size="18" text-anchor="end">2</text><text x="123.4" y="253.9" font-family="DejaVu Sans, sans-serif" font-size="18" text-anchor="end">3</text><text x="123.4" y="216.4" font-family="DejaVu Sans, sans-serif" font-size="18" text-anchor="end">4</text><text x="123.4" y="178.9" font-family="DejaVu Sans, sans-serif" font-size="18" text-anchor="end">5</text><text x="1098.5" y="366.4" font-family="DejaVu Sans, sans-serif" font-size="18">0</text><text x="1098.5" y="328.9" font-family="DejaVu Sans, sans-serif" font-size="18">1.5</text><text x="1098.5" y="291.4" font-family="DejaVu Sans, sans-serif" font-size="18">3.5</text><text x="1098.5" y="253.9" font-family="DejaVu Sans, sans-serif" font-size="18">6.0</text><text x="1098.5" y="216.4" font-family="DejaVu Sans, sans-serif" font-size="18">9.0</text><text x="1098.5" y="178.9" font-family="DejaVu Sans, sans-serif" font-size="18">14</text><text x="45.3" y="366.4" font-family="DejaVu Sans, sans-serif" font-size="18" fill="#ff0000">3</text><text x="45.3" y="328.9" font-family="DejaVu Sans, sans-serif" font-size="18" fill="#ff0000">7</text><text x="45.3" y="291.4" font-family="DejaVu Sans, sans-serif" font-size="18" fill="#ff0000">11</text><text x="45.3" y="253.9" font-family="DejaVu Sans, sans-serif" font-size="18" fill="#ff0000">16</text><text x="45.3" y="216.4" font-family="DejaVu Sans, sans-serif" font-size="18" fill="#ff0000">20</text><text x="45.3" y="178.9" font-family="DejaVu Sans, sans-serif" font-size="18" fill="#ff0000">24</text><text x="161.2" y="376.5" font-family="DejaVu Sans, sans-serif" font-size="18" text-anchor="middle">06</text><text x="195.8" y="376.5" font-family="DejaVu Sans, sans-serif" font-size="18" text-anchor="middle">12</text><text x="230.3" y="376.5" font-family="DejaVu Sans, sans-serif" font-size="18" text-anchor="middle">18</text><text x="266.2" y="376.5" font-family="DejaVu Sans, sans-serif" font-size="18" text-anchor="middle">pon</text><text x="299.4" y="376.5" font-family="DejaVu Sans, sans-serif" font-size="18" text-anchor="middle">06</text><text x="333.9" y="376.5" font-family="DejaVu Sans, sans-serif" font-size="18" text-anchor="middle">12</text><text x="368.4" y="376.5" font-family="DejaVu Sans, sans-serif" font-size="18" text-anchor="middle">18</text><text x="404.4" y="376.5" font-family="DejaVu Sans, sans-serif" font-size="18" text-anchor="middle">tor</text><text x="437.5" y="376.5" font-family="DejaVu Sans, sans-serif" font-size="18" text-anchor="middle">06</text><text x="472.1" y="376.5" font-family="DejaVu Sans, sans-serif" font-size="18" text-anchor="middle">12</text><text x="506.6" y="376.5" font-family="DejaVu Sans, sans-serif" font-size="18" text-anchor="middle">18</text><text x="542.5" y="376.5" font-family="DejaVu Sans, sans-serif" font-size="18" text-anchor="middle">sre</text><text x="575.7" y="376.5" font-family="DejaVu Sans, sans-serif" font-size="18" text-anchor="middle">06</text><text x="610.2" y="376.5" font-family="DejaVu Sans, sans-serif" font-size="18" text-anchor="middle">12</text><text x="644.7" y="376.5" font-family="DejaVu Sans, sans-serif" font-size="18" text-anchor="middle">18</text><text x="680.7" y="376.5" font-family="DejaVu Sans, sans-serif" font-size="18" text-anchor="middle">čet</text><text x="713.8" y="376.5" font-family="DejaVu Sans, sans-serif" font-size="18" text-anchor="middle">06</text><text x="748.3" y="376.5" font-family="DejaVu Sans, sans-serif" font-size="18" text-anchor="middle">12</text><text x="782.9" y="376.5" font-family="DejaVu Sans, sans-serif" font-size="18" text-anchor="middle">18</text><text x="818.8" y="376.5" font-family="DejaVu Sans, sans-serif" font-size="18" text-anchor="middle">pet</text><text x="851.9" y="376.5" font-family="DejaVu Sans, sans-serif" font-size="18" text-anchor="middle">06</text><text x="886.5" y="376.5" font-family="DejaVu Sans, sans-serif" font-size="18" text-anchor="middle">12</text><text x="921.0" y="376.5" font-family="DejaVu Sans, sans-serif" font-size="18" text-anchor="middle">18</text><text x="957.0" y="376.5" font-family="DejaVu Sans, sans-serif" font-size="18" text-anchor="middle">sob</text><text x="990.1" y="376.5" font-family="DejaVu Sans, sans-serif" font-size="18" text-anchor="middle">06</text><text x="1024.6" y="376.5" font-family="DejaVu Sans, sans-serif" font-size="18" text-anchor="middle">12</text><text x="1059.2" y="376.5" font-family="DejaVu Sans, sans-serif" font-size="18" text-anchor="middle">18</text><text x="196.6" y="69.3" font-family="DejaVu Sans, sans-serif" font-size="18" text-anchor="middle" fill="#d00000">nedelja</text><text x="196.6" y="89.5" font-family="DejaVu Sans, sans-serif" font-size="18" text-anchor="middle" fill="#d00000">26.10</text><text x="334.7" y="69.3" font-family="DejaVu Sans, sans-serif" font-size="18" text-anchor="middle" fill="#000">ponedeljek</text><text x="334.7" y="89.5" font-family="DejaVu Sans, sans-serif" font-size="18" text-anchor="middle" fill="#000">27.10</text><text x="472.9" y="69.3" font-family="DejaVu Sans, sans-serif" font-size="18" text-anchor="middle" fill="#000">torek</text><text x="472.9" y="89.5" font-family="DejaVu Sans, sans-serif" font-size="18" text-anchor="middle" fill="#000">28.10</text><text x="611.0" y="69.3" font-family="DejaVu Sans, sans-serif" font-size="18" text-anchor="middle" fill="#000">sreda</text><text x="611.0" y="89.5" font-family="DejaVu Sans, sans-serif" font-size="18" text-anchor="middle" fill="#000">29.10</text><text x="749.1" y="69.3" font-family="DejaVu Sans, sans-serif" font-size="18" text-anchor="middle" fill="#000">četrtek</text><text x="749.1" y="89.5" font-family="DejaVu Sans, sans-serif" font-size="18" text-anchor="middle" fill="#000">30.10</text><text x="887.3" y="69.3" font-family="DejaVu Sans, sans-serif" font-size="18" text-anchor="middle" fill="#000">petek</text><text x="887.3" y="89.5" font-family="DejaVu Sans, sans-serif" font-size="18" text-anchor="middle" fill="#000">31.10</text><text x="1025.4" y="69.3" font-family="DejaVu Sans, sans-serif" font-size="18" text-anchor="middle" fill="#d00000">sobota</text><text x="1025.4" y="89.5" font-family="DejaVu Sans, sans-serif" font-size="18" text-anchor="middle" fill="#d00000">01.11</text><text transform="translate(100.3,264) rotate(-90)" font-family="DejaVu Sans, sans-serif" font-size="19.4" text-anchor="middle">Padavine (mm/h)</text><text transform="translate(35.3,267) rotate(-90)" font-family="DejaVu Sans, sans-serif" font-size="19.15" text-anchor="middle" fill="#ff0000">Temperatura (°C)</text><text transform="translate(1146,254.3) rotate(-90)" font-family="DejaVu Sans, sans-serif" font-size="19.4" text-anchor="middle">Višina oblakov (km)</text><rect x="127" y="390.3" width="32.5" height="10.5" fill="#0055ff"/><rect x="165" y="385.6" width="105" height="20" fill="#fff"/><rect x="277.8" y="390.3" width="32.5" height="10.5" fill="#22ddcc"/><rect x="311.7" y="385.6" width="108.5" height="20" fill="#fff"/><rect x="760" y="386" width="179.6" height="19.7" fill="#fff"/><rect x="949.1" y="385.2" width="29.2" height="13.2" fill="#d3d3d3"/><rect x="978.2" y="385.2" width="29.2" height="13.2" fill="#b0b0b0"/><rect x="1007.3" y="385.2" width="29.2" height="13.2" fill="#929292"/><rect x="1036.4" y="385.2" width="29.2" height="13.2" fill="#747474"/><rect x="1065.5" y="385.2" width="29.2" height="13.2" fill="#555555"/><rect x="949.1" y="385.2" width="145.5" height="13.2" fill="none" stroke="#222" stroke-width="1"/><text x="949.1" y="415" font-family="DejaVu Sans, sans-serif" font-size="15.5" text-anchor="middle">10</text><text x="978.2" y="415" font-family="DejaVu Sans, sans-serif" font-size="15.5" text-anchor="middle">25</text><text x="1007.3" y="415" font-family="DejaVu Sans, sans-serif" font-size="15.5" text-anchor="middle">50</text><text x="1036.4" y="415" font-family="DejaVu Sans, sans-serif" font-size="15.5" text-anchor="middle">75</text><text x="1065.5" y="415" font-family="DejaVu Sans, sans-serif" font-size="15.5" text-anchor="middle">90</text><text x="1094.6" y="415" font-family="DejaVu Sans, sans-serif" font-size="15.5" text-anchor="middle">100</text><text x="168.2" y="401.6" font-family="Liberation Sans, Arial, sans-serif" font-size="19.4">Dež</text><text x="317.8" y="401.6" font-family="Liberation Sans, Arial, sans-serif" font-size="19.4">Možnost ploh</text><text x="758.8" y="402.1" font-family="Liberation Sans, Arial, sans-serif" font-size="19.4">Gostota oblakov (%)</text><text x="500" y="402" font-family="Liberation Sans, Arial, sans-serif" font-size="15.7" fill="#0000ff">© vreme.us &amp; vreme.pro</text></svg>
<div class="t" style="left:10px;top:9px;font-size:16px">(kraj lahko izberete v meniju)</div>
<div class="t" style="left:399px;top:18px;font-size:23.6px">Novigrad 7 dni</div>
<div class="t" style="right:9px;top:9px;font-size:16px">Zadnja posodobitev: 26.10.2025 - 08:04</div>
</body></html>
